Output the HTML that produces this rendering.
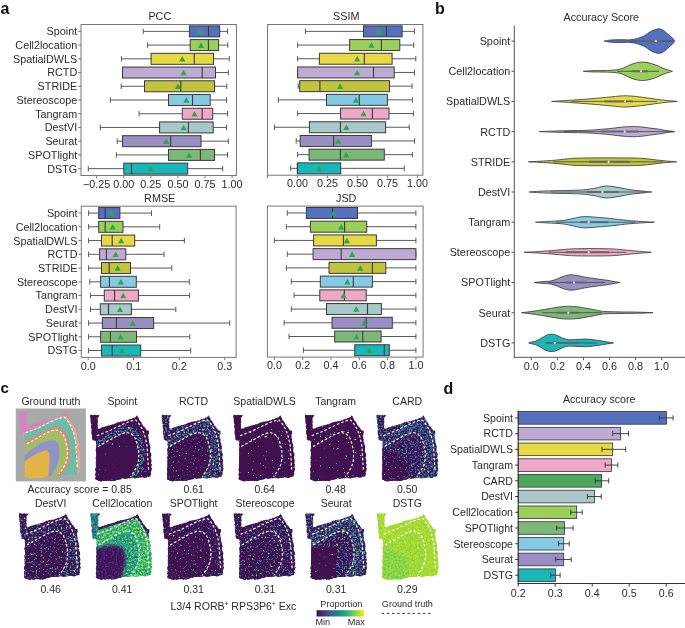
<!DOCTYPE html><html><head><meta charset="utf-8"><style>html,body{margin:0;padding:0;background:#fff;overflow:hidden;}svg{display:block;will-change:transform}text{font-family:"Liberation Sans",sans-serif;}</style></head><body>
<svg width="685" height="628" viewBox="0 0 685 628">
<text x="0.5" y="13.6" font-size="16" text-anchor="start" font-weight="bold" fill="#111">a</text>
<text x="435.0" y="13.6" font-size="16" text-anchor="start" font-weight="bold" fill="#111">b</text>
<text x="0.5" y="393.3" font-size="15" text-anchor="start" font-weight="bold" fill="#111">c</text>
<text x="443.5" y="394.0" font-size="16" text-anchor="start" font-weight="bold" fill="#111">d</text>
<rect x="81.00" y="24.50" width="155.50" height="151.00" fill="none" stroke="#777777" stroke-width="1"/>
<text x="159.8" y="20.4" font-size="10.8" text-anchor="middle" fill="#2b2b2b">PCC</text>
<line x1="143.20" y1="31.36" x2="189.40" y2="31.36" stroke="#5a5a5a" stroke-width="1"/>
<line x1="219.70" y1="31.36" x2="227.50" y2="31.36" stroke="#5a5a5a" stroke-width="1"/>
<line x1="143.20" y1="28.62" x2="143.20" y2="34.11" stroke="#5a5a5a" stroke-width="1"/>
<line x1="227.50" y1="28.62" x2="227.50" y2="34.11" stroke="#5a5a5a" stroke-width="1"/>
<rect x="189.40" y="25.87" width="30.30" height="10.98" fill="#5470BE" stroke="#3a3a3a" stroke-width="1"/>
<line x1="208.50" y1="25.87" x2="208.50" y2="36.85" stroke="#3a3a3a" stroke-width="1.1"/>
<path d="M197.10,34.16 L203.30,34.16 L200.20,28.56 Z" fill="#2BA84A"/>
<line x1="78.20" y1="31.36" x2="81.00" y2="31.36" stroke="#777777" stroke-width="1"/>
<text x="77.2" y="35.3" font-size="10.8" text-anchor="end" fill="#2b2b2b">Spoint</text>
<line x1="147.60" y1="45.09" x2="190.20" y2="45.09" stroke="#5a5a5a" stroke-width="1"/>
<line x1="218.60" y1="45.09" x2="227.80" y2="45.09" stroke="#5a5a5a" stroke-width="1"/>
<line x1="147.60" y1="42.35" x2="147.60" y2="47.84" stroke="#5a5a5a" stroke-width="1"/>
<line x1="227.80" y1="42.35" x2="227.80" y2="47.84" stroke="#5a5a5a" stroke-width="1"/>
<rect x="190.20" y="39.60" width="28.40" height="10.98" fill="#9BCF5B" stroke="#3a3a3a" stroke-width="1"/>
<line x1="208.40" y1="39.60" x2="208.40" y2="50.58" stroke="#3a3a3a" stroke-width="1.1"/>
<path d="M197.90,47.89 L204.10,47.89 L201.00,42.29 Z" fill="#2BA84A"/>
<line x1="78.20" y1="45.09" x2="81.00" y2="45.09" stroke="#777777" stroke-width="1"/>
<text x="77.2" y="49.0" font-size="10.8" text-anchor="end" fill="#2b2b2b">Cell2location</text>
<line x1="121.50" y1="58.82" x2="151.10" y2="58.82" stroke="#5a5a5a" stroke-width="1"/>
<line x1="213.50" y1="58.82" x2="229.30" y2="58.82" stroke="#5a5a5a" stroke-width="1"/>
<line x1="121.50" y1="56.07" x2="121.50" y2="61.56" stroke="#5a5a5a" stroke-width="1"/>
<line x1="229.30" y1="56.07" x2="229.30" y2="61.56" stroke="#5a5a5a" stroke-width="1"/>
<rect x="151.10" y="53.33" width="62.40" height="10.98" fill="#E6D944" stroke="#3a3a3a" stroke-width="1"/>
<line x1="194.30" y1="53.33" x2="194.30" y2="64.31" stroke="#3a3a3a" stroke-width="1.1"/>
<path d="M179.20,61.62 L185.40,61.62 L182.30,56.02 Z" fill="#2BA84A"/>
<line x1="78.20" y1="58.82" x2="81.00" y2="58.82" stroke="#777777" stroke-width="1"/>
<text x="77.2" y="62.7" font-size="10.8" text-anchor="end" fill="#2b2b2b">SpatialDWLS</text>
<line x1="122.50" y1="72.55" x2="122.50" y2="72.55" stroke="#5a5a5a" stroke-width="1"/>
<line x1="215.50" y1="72.55" x2="228.30" y2="72.55" stroke="#5a5a5a" stroke-width="1"/>
<line x1="122.50" y1="69.80" x2="122.50" y2="75.29" stroke="#5a5a5a" stroke-width="1"/>
<line x1="228.30" y1="69.80" x2="228.30" y2="75.29" stroke="#5a5a5a" stroke-width="1"/>
<rect x="122.50" y="67.05" width="93.00" height="10.98" fill="#BEAAD3" stroke="#3a3a3a" stroke-width="1"/>
<line x1="202.20" y1="67.05" x2="202.20" y2="78.04" stroke="#3a3a3a" stroke-width="1.1"/>
<path d="M180.50,75.35 L186.70,75.35 L183.60,69.75 Z" fill="#2BA84A"/>
<line x1="78.20" y1="72.55" x2="81.00" y2="72.55" stroke="#777777" stroke-width="1"/>
<text x="77.2" y="76.4" font-size="10.8" text-anchor="end" fill="#2b2b2b">RCTD</text>
<line x1="121.20" y1="86.27" x2="144.50" y2="86.27" stroke="#5a5a5a" stroke-width="1"/>
<line x1="214.50" y1="86.27" x2="226.80" y2="86.27" stroke="#5a5a5a" stroke-width="1"/>
<line x1="121.20" y1="83.53" x2="121.20" y2="89.02" stroke="#5a5a5a" stroke-width="1"/>
<line x1="226.80" y1="83.53" x2="226.80" y2="89.02" stroke="#5a5a5a" stroke-width="1"/>
<rect x="144.50" y="80.78" width="70.00" height="10.98" fill="#C3C43E" stroke="#3a3a3a" stroke-width="1"/>
<line x1="180.80" y1="80.78" x2="180.80" y2="91.76" stroke="#3a3a3a" stroke-width="1.1"/>
<path d="M174.90,89.07 L181.10,89.07 L178.00,83.47 Z" fill="#2BA84A"/>
<line x1="78.20" y1="86.27" x2="81.00" y2="86.27" stroke="#777777" stroke-width="1"/>
<text x="77.2" y="90.2" font-size="10.8" text-anchor="end" fill="#2b2b2b">STRIDE</text>
<line x1="110.30" y1="100.00" x2="168.50" y2="100.00" stroke="#5a5a5a" stroke-width="1"/>
<line x1="210.20" y1="100.00" x2="226.50" y2="100.00" stroke="#5a5a5a" stroke-width="1"/>
<line x1="110.30" y1="97.25" x2="110.30" y2="102.75" stroke="#5a5a5a" stroke-width="1"/>
<line x1="226.50" y1="97.25" x2="226.50" y2="102.75" stroke="#5a5a5a" stroke-width="1"/>
<rect x="168.50" y="94.51" width="41.70" height="10.98" fill="#86CBE6" stroke="#3a3a3a" stroke-width="1"/>
<line x1="192.50" y1="94.51" x2="192.50" y2="105.49" stroke="#3a3a3a" stroke-width="1.1"/>
<path d="M183.30,102.80 L189.50,102.80 L186.40,97.20 Z" fill="#2BA84A"/>
<line x1="78.20" y1="100.00" x2="81.00" y2="100.00" stroke="#777777" stroke-width="1"/>
<text x="77.2" y="103.9" font-size="10.8" text-anchor="end" fill="#2b2b2b">Stereoscope</text>
<line x1="139.10" y1="113.73" x2="182.30" y2="113.73" stroke="#5a5a5a" stroke-width="1"/>
<line x1="212.70" y1="113.73" x2="227.50" y2="113.73" stroke="#5a5a5a" stroke-width="1"/>
<line x1="139.10" y1="110.98" x2="139.10" y2="116.47" stroke="#5a5a5a" stroke-width="1"/>
<line x1="227.50" y1="110.98" x2="227.50" y2="116.47" stroke="#5a5a5a" stroke-width="1"/>
<rect x="182.30" y="108.24" width="30.40" height="10.98" fill="#EFA8C8" stroke="#3a3a3a" stroke-width="1"/>
<line x1="202.20" y1="108.24" x2="202.20" y2="119.22" stroke="#3a3a3a" stroke-width="1.1"/>
<path d="M191.50,116.53 L197.70,116.53 L194.60,110.93 Z" fill="#2BA84A"/>
<line x1="78.20" y1="113.73" x2="81.00" y2="113.73" stroke="#777777" stroke-width="1"/>
<text x="77.2" y="117.6" font-size="10.8" text-anchor="end" fill="#2b2b2b">Tangram</text>
<line x1="100.30" y1="127.45" x2="159.60" y2="127.45" stroke="#5a5a5a" stroke-width="1"/>
<line x1="213.20" y1="127.45" x2="226.50" y2="127.45" stroke="#5a5a5a" stroke-width="1"/>
<line x1="100.30" y1="124.71" x2="100.30" y2="130.20" stroke="#5a5a5a" stroke-width="1"/>
<line x1="226.50" y1="124.71" x2="226.50" y2="130.20" stroke="#5a5a5a" stroke-width="1"/>
<rect x="159.60" y="121.96" width="53.60" height="10.98" fill="#A8C8C9" stroke="#3a3a3a" stroke-width="1"/>
<line x1="188.40" y1="121.96" x2="188.40" y2="132.95" stroke="#3a3a3a" stroke-width="1.1"/>
<path d="M180.50,130.25 L186.70,130.25 L183.60,124.65 Z" fill="#2BA84A"/>
<line x1="78.20" y1="127.45" x2="81.00" y2="127.45" stroke="#777777" stroke-width="1"/>
<text x="77.2" y="131.3" font-size="10.8" text-anchor="end" fill="#2b2b2b">DestVI</text>
<line x1="117.20" y1="141.18" x2="122.50" y2="141.18" stroke="#5a5a5a" stroke-width="1"/>
<line x1="201.00" y1="141.18" x2="228.30" y2="141.18" stroke="#5a5a5a" stroke-width="1"/>
<line x1="117.20" y1="138.44" x2="117.20" y2="143.93" stroke="#5a5a5a" stroke-width="1"/>
<line x1="228.30" y1="138.44" x2="228.30" y2="143.93" stroke="#5a5a5a" stroke-width="1"/>
<rect x="122.50" y="135.69" width="78.50" height="10.98" fill="#9A8FC3" stroke="#3a3a3a" stroke-width="1"/>
<line x1="170.60" y1="135.69" x2="170.60" y2="146.67" stroke="#3a3a3a" stroke-width="1.1"/>
<path d="M163.10,143.98 L169.30,143.98 L166.20,138.38 Z" fill="#2BA84A"/>
<line x1="78.20" y1="141.18" x2="81.00" y2="141.18" stroke="#777777" stroke-width="1"/>
<text x="77.2" y="145.1" font-size="10.8" text-anchor="end" fill="#2b2b2b">Seurat</text>
<line x1="116.40" y1="154.91" x2="168.50" y2="154.91" stroke="#5a5a5a" stroke-width="1"/>
<line x1="214.50" y1="154.91" x2="227.50" y2="154.91" stroke="#5a5a5a" stroke-width="1"/>
<line x1="116.40" y1="152.16" x2="116.40" y2="157.65" stroke="#5a5a5a" stroke-width="1"/>
<line x1="227.50" y1="152.16" x2="227.50" y2="157.65" stroke="#5a5a5a" stroke-width="1"/>
<rect x="168.50" y="149.42" width="46.00" height="10.98" fill="#7EB878" stroke="#3a3a3a" stroke-width="1"/>
<line x1="200.40" y1="149.42" x2="200.40" y2="160.40" stroke="#3a3a3a" stroke-width="1.1"/>
<path d="M185.90,157.71 L192.10,157.71 L189.00,152.11 Z" fill="#2BA84A"/>
<line x1="78.20" y1="154.91" x2="81.00" y2="154.91" stroke="#777777" stroke-width="1"/>
<text x="77.2" y="158.8" font-size="10.8" text-anchor="end" fill="#2b2b2b">SPOTlight</text>
<line x1="88.30" y1="168.64" x2="123.80" y2="168.64" stroke="#5a5a5a" stroke-width="1"/>
<line x1="187.70" y1="168.64" x2="222.70" y2="168.64" stroke="#5a5a5a" stroke-width="1"/>
<line x1="88.30" y1="165.89" x2="88.30" y2="171.38" stroke="#5a5a5a" stroke-width="1"/>
<line x1="222.70" y1="165.89" x2="222.70" y2="171.38" stroke="#5a5a5a" stroke-width="1"/>
<rect x="123.80" y="163.15" width="63.90" height="10.98" fill="#1AB7BA" stroke="#3a3a3a" stroke-width="1"/>
<line x1="131.50" y1="163.15" x2="131.50" y2="174.13" stroke="#3a3a3a" stroke-width="1.1"/>
<path d="M147.50,171.44 L153.70,171.44 L150.60,165.84 Z" fill="#2BA84A"/>
<line x1="78.20" y1="168.64" x2="81.00" y2="168.64" stroke="#777777" stroke-width="1"/>
<text x="77.2" y="172.5" font-size="10.8" text-anchor="end" fill="#2b2b2b">DSTG</text>
<line x1="96.60" y1="175.50" x2="96.60" y2="178.30" stroke="#777777" stroke-width="1"/>
<text x="96.6" y="187.6" font-size="10.8" text-anchor="middle" fill="#2b2b2b">−0.25</text>
<line x1="123.70" y1="175.50" x2="123.70" y2="178.30" stroke="#777777" stroke-width="1"/>
<text x="123.7" y="187.6" font-size="10.8" text-anchor="middle" fill="#2b2b2b">0.00</text>
<line x1="150.80" y1="175.50" x2="150.80" y2="178.30" stroke="#777777" stroke-width="1"/>
<text x="150.8" y="187.6" font-size="10.8" text-anchor="middle" fill="#2b2b2b">0.25</text>
<line x1="177.90" y1="175.50" x2="177.90" y2="178.30" stroke="#777777" stroke-width="1"/>
<text x="177.9" y="187.6" font-size="10.8" text-anchor="middle" fill="#2b2b2b">0.50</text>
<line x1="205.00" y1="175.50" x2="205.00" y2="178.30" stroke="#777777" stroke-width="1"/>
<text x="205.0" y="187.6" font-size="10.8" text-anchor="middle" fill="#2b2b2b">0.75</text>
<line x1="232.10" y1="175.50" x2="232.10" y2="178.30" stroke="#777777" stroke-width="1"/>
<text x="232.1" y="187.6" font-size="10.8" text-anchor="middle" fill="#2b2b2b">1.00</text>
<rect x="267.50" y="24.50" width="155.40" height="150.70" fill="none" stroke="#777777" stroke-width="1"/>
<text x="346.2" y="20.4" font-size="10.8" text-anchor="middle" fill="#2b2b2b">SSIM</text>
<line x1="305.40" y1="31.35" x2="363.50" y2="31.35" stroke="#5a5a5a" stroke-width="1"/>
<line x1="402.10" y1="31.35" x2="414.50" y2="31.35" stroke="#5a5a5a" stroke-width="1"/>
<line x1="305.40" y1="28.61" x2="305.40" y2="34.09" stroke="#5a5a5a" stroke-width="1"/>
<line x1="414.50" y1="28.61" x2="414.50" y2="34.09" stroke="#5a5a5a" stroke-width="1"/>
<rect x="363.50" y="25.87" width="38.60" height="10.96" fill="#5470BE" stroke="#3a3a3a" stroke-width="1"/>
<line x1="386.40" y1="25.87" x2="386.40" y2="36.83" stroke="#3a3a3a" stroke-width="1.1"/>
<path d="M375.90,34.15 L382.10,34.15 L379.00,28.55 Z" fill="#2BA84A"/>
<line x1="297.60" y1="45.05" x2="349.60" y2="45.05" stroke="#5a5a5a" stroke-width="1"/>
<line x1="399.80" y1="45.05" x2="413.70" y2="45.05" stroke="#5a5a5a" stroke-width="1"/>
<line x1="297.60" y1="42.31" x2="297.60" y2="47.79" stroke="#5a5a5a" stroke-width="1"/>
<line x1="413.70" y1="42.31" x2="413.70" y2="47.79" stroke="#5a5a5a" stroke-width="1"/>
<rect x="349.60" y="39.57" width="50.20" height="10.96" fill="#9BCF5B" stroke="#3a3a3a" stroke-width="1"/>
<line x1="381.40" y1="39.57" x2="381.40" y2="50.53" stroke="#3a3a3a" stroke-width="1.1"/>
<path d="M368.30,47.85 L374.50,47.85 L371.40,42.25 Z" fill="#2BA84A"/>
<line x1="297.60" y1="58.75" x2="319.40" y2="58.75" stroke="#5a5a5a" stroke-width="1"/>
<line x1="392.10" y1="58.75" x2="415.80" y2="58.75" stroke="#5a5a5a" stroke-width="1"/>
<line x1="297.60" y1="56.01" x2="297.60" y2="61.49" stroke="#5a5a5a" stroke-width="1"/>
<line x1="415.80" y1="56.01" x2="415.80" y2="61.49" stroke="#5a5a5a" stroke-width="1"/>
<rect x="319.40" y="53.27" width="72.70" height="10.96" fill="#E6D944" stroke="#3a3a3a" stroke-width="1"/>
<line x1="364.30" y1="53.27" x2="364.30" y2="64.23" stroke="#3a3a3a" stroke-width="1.1"/>
<path d="M354.10,61.55 L360.30,61.55 L357.20,55.95 Z" fill="#2BA84A"/>
<line x1="297.60" y1="72.45" x2="297.60" y2="72.45" stroke="#5a5a5a" stroke-width="1"/>
<line x1="394.20" y1="72.45" x2="414.50" y2="72.45" stroke="#5a5a5a" stroke-width="1"/>
<line x1="297.60" y1="69.71" x2="297.60" y2="75.19" stroke="#5a5a5a" stroke-width="1"/>
<line x1="414.50" y1="69.71" x2="414.50" y2="75.19" stroke="#5a5a5a" stroke-width="1"/>
<rect x="297.60" y="66.97" width="96.60" height="10.96" fill="#BEAAD3" stroke="#3a3a3a" stroke-width="1"/>
<line x1="373.50" y1="66.97" x2="373.50" y2="77.93" stroke="#3a3a3a" stroke-width="1.1"/>
<path d="M354.10,75.25 L360.30,75.25 L357.20,69.65 Z" fill="#2BA84A"/>
<line x1="298.10" y1="86.15" x2="299.70" y2="86.15" stroke="#5a5a5a" stroke-width="1"/>
<line x1="389.50" y1="86.15" x2="412.10" y2="86.15" stroke="#5a5a5a" stroke-width="1"/>
<line x1="298.10" y1="83.41" x2="298.10" y2="88.89" stroke="#5a5a5a" stroke-width="1"/>
<line x1="412.10" y1="83.41" x2="412.10" y2="88.89" stroke="#5a5a5a" stroke-width="1"/>
<rect x="299.70" y="80.67" width="89.80" height="10.96" fill="#C3C43E" stroke="#3a3a3a" stroke-width="1"/>
<line x1="319.90" y1="80.67" x2="319.90" y2="91.63" stroke="#3a3a3a" stroke-width="1.1"/>
<path d="M337.00,88.95 L343.20,88.95 L340.10,83.35 Z" fill="#2BA84A"/>
<line x1="278.40" y1="99.85" x2="326.50" y2="99.85" stroke="#5a5a5a" stroke-width="1"/>
<line x1="387.40" y1="99.85" x2="412.40" y2="99.85" stroke="#5a5a5a" stroke-width="1"/>
<line x1="278.40" y1="97.11" x2="278.40" y2="102.59" stroke="#5a5a5a" stroke-width="1"/>
<line x1="412.40" y1="97.11" x2="412.40" y2="102.59" stroke="#5a5a5a" stroke-width="1"/>
<rect x="326.50" y="94.37" width="60.90" height="10.96" fill="#86CBE6" stroke="#3a3a3a" stroke-width="1"/>
<line x1="359.30" y1="94.37" x2="359.30" y2="105.33" stroke="#3a3a3a" stroke-width="1.1"/>
<path d="M352.80,102.65 L359.00,102.65 L355.90,97.05 Z" fill="#2BA84A"/>
<line x1="297.60" y1="113.55" x2="340.60" y2="113.55" stroke="#5a5a5a" stroke-width="1"/>
<line x1="389.00" y1="113.55" x2="413.40" y2="113.55" stroke="#5a5a5a" stroke-width="1"/>
<line x1="297.60" y1="110.81" x2="297.60" y2="116.29" stroke="#5a5a5a" stroke-width="1"/>
<line x1="413.40" y1="110.81" x2="413.40" y2="116.29" stroke="#5a5a5a" stroke-width="1"/>
<rect x="340.60" y="108.07" width="48.40" height="10.96" fill="#EFA8C8" stroke="#3a3a3a" stroke-width="1"/>
<line x1="372.40" y1="108.07" x2="372.40" y2="119.03" stroke="#3a3a3a" stroke-width="1.1"/>
<path d="M360.40,116.35 L366.60,116.35 L363.50,110.75 Z" fill="#2BA84A"/>
<line x1="274.40" y1="127.25" x2="309.40" y2="127.25" stroke="#5a5a5a" stroke-width="1"/>
<line x1="385.60" y1="127.25" x2="409.20" y2="127.25" stroke="#5a5a5a" stroke-width="1"/>
<line x1="274.40" y1="124.51" x2="274.40" y2="129.99" stroke="#5a5a5a" stroke-width="1"/>
<line x1="409.20" y1="124.51" x2="409.20" y2="129.99" stroke="#5a5a5a" stroke-width="1"/>
<rect x="309.40" y="121.77" width="76.20" height="10.96" fill="#A8C8C9" stroke="#3a3a3a" stroke-width="1"/>
<line x1="340.40" y1="121.77" x2="340.40" y2="132.73" stroke="#3a3a3a" stroke-width="1.1"/>
<path d="M343.30,130.05 L349.50,130.05 L346.40,124.45 Z" fill="#2BA84A"/>
<line x1="296.20" y1="140.95" x2="300.20" y2="140.95" stroke="#5a5a5a" stroke-width="1"/>
<line x1="371.40" y1="140.95" x2="414.50" y2="140.95" stroke="#5a5a5a" stroke-width="1"/>
<line x1="296.20" y1="138.21" x2="296.20" y2="143.69" stroke="#5a5a5a" stroke-width="1"/>
<line x1="414.50" y1="138.21" x2="414.50" y2="143.69" stroke="#5a5a5a" stroke-width="1"/>
<rect x="300.20" y="135.47" width="71.20" height="10.96" fill="#9A8FC3" stroke="#3a3a3a" stroke-width="1"/>
<line x1="333.60" y1="135.47" x2="333.60" y2="146.43" stroke="#3a3a3a" stroke-width="1.1"/>
<path d="M335.20,143.75 L341.40,143.75 L338.30,138.15 Z" fill="#2BA84A"/>
<line x1="297.60" y1="154.65" x2="309.10" y2="154.65" stroke="#5a5a5a" stroke-width="1"/>
<line x1="384.30" y1="154.65" x2="412.40" y2="154.65" stroke="#5a5a5a" stroke-width="1"/>
<line x1="297.60" y1="151.91" x2="297.60" y2="157.39" stroke="#5a5a5a" stroke-width="1"/>
<line x1="412.40" y1="151.91" x2="412.40" y2="157.39" stroke="#5a5a5a" stroke-width="1"/>
<rect x="309.10" y="149.17" width="75.20" height="10.96" fill="#7EB878" stroke="#3a3a3a" stroke-width="1"/>
<line x1="340.40" y1="149.17" x2="340.40" y2="160.13" stroke="#3a3a3a" stroke-width="1.1"/>
<path d="M343.10,157.45 L349.30,157.45 L346.20,151.85 Z" fill="#2BA84A"/>
<line x1="290.70" y1="168.35" x2="297.40" y2="168.35" stroke="#5a5a5a" stroke-width="1"/>
<line x1="340.70" y1="168.35" x2="404.20" y2="168.35" stroke="#5a5a5a" stroke-width="1"/>
<line x1="290.70" y1="165.61" x2="290.70" y2="171.09" stroke="#5a5a5a" stroke-width="1"/>
<line x1="404.20" y1="165.61" x2="404.20" y2="171.09" stroke="#5a5a5a" stroke-width="1"/>
<rect x="297.40" y="162.87" width="43.30" height="10.96" fill="#1AB7BA" stroke="#3a3a3a" stroke-width="1"/>
<line x1="297.40" y1="162.87" x2="297.40" y2="173.83" stroke="#3a3a3a" stroke-width="1.1"/>
<path d="M315.90,171.15 L322.10,171.15 L319.00,165.55 Z" fill="#2BA84A"/>
<line x1="267.40" y1="175.20" x2="267.40" y2="178.00" stroke="#777777" stroke-width="1"/>
<line x1="297.40" y1="175.20" x2="297.40" y2="178.00" stroke="#777777" stroke-width="1"/>
<text x="297.4" y="187.3" font-size="10.8" text-anchor="middle" fill="#2b2b2b">0.00</text>
<line x1="327.40" y1="175.20" x2="327.40" y2="178.00" stroke="#777777" stroke-width="1"/>
<text x="327.4" y="187.3" font-size="10.8" text-anchor="middle" fill="#2b2b2b">0.25</text>
<line x1="357.40" y1="175.20" x2="357.40" y2="178.00" stroke="#777777" stroke-width="1"/>
<text x="357.4" y="187.3" font-size="10.8" text-anchor="middle" fill="#2b2b2b">0.50</text>
<line x1="387.40" y1="175.20" x2="387.40" y2="178.00" stroke="#777777" stroke-width="1"/>
<text x="387.4" y="187.3" font-size="10.8" text-anchor="middle" fill="#2b2b2b">0.75</text>
<line x1="417.40" y1="175.20" x2="417.40" y2="178.00" stroke="#777777" stroke-width="1"/>
<text x="417.4" y="187.3" font-size="10.8" text-anchor="middle" fill="#2b2b2b">1.00</text>
<rect x="81.30" y="206.20" width="154.80" height="151.20" fill="none" stroke="#777777" stroke-width="1"/>
<text x="159.7" y="202.1" font-size="10.8" text-anchor="middle" fill="#2b2b2b">RMSE</text>
<line x1="88.60" y1="213.07" x2="98.70" y2="213.07" stroke="#5a5a5a" stroke-width="1"/>
<line x1="119.90" y1="213.07" x2="151.50" y2="213.07" stroke="#5a5a5a" stroke-width="1"/>
<line x1="88.60" y1="210.32" x2="88.60" y2="215.82" stroke="#5a5a5a" stroke-width="1"/>
<line x1="151.50" y1="210.32" x2="151.50" y2="215.82" stroke="#5a5a5a" stroke-width="1"/>
<rect x="98.70" y="207.57" width="21.20" height="11.00" fill="#5470BE" stroke="#3a3a3a" stroke-width="1"/>
<line x1="105.20" y1="207.57" x2="105.20" y2="218.57" stroke="#3a3a3a" stroke-width="1.1"/>
<path d="M107.70,215.87 L113.90,215.87 L110.80,210.27 Z" fill="#2BA84A"/>
<line x1="78.50" y1="213.07" x2="81.30" y2="213.07" stroke="#777777" stroke-width="1"/>
<text x="77.5" y="217.0" font-size="10.8" text-anchor="end" fill="#2b2b2b">Spoint</text>
<line x1="88.60" y1="226.82" x2="98.70" y2="226.82" stroke="#5a5a5a" stroke-width="1"/>
<line x1="123.00" y1="226.82" x2="159.70" y2="226.82" stroke="#5a5a5a" stroke-width="1"/>
<line x1="88.60" y1="224.07" x2="88.60" y2="229.57" stroke="#5a5a5a" stroke-width="1"/>
<line x1="159.70" y1="224.07" x2="159.70" y2="229.57" stroke="#5a5a5a" stroke-width="1"/>
<rect x="98.70" y="221.32" width="24.30" height="11.00" fill="#9BCF5B" stroke="#3a3a3a" stroke-width="1"/>
<line x1="105.20" y1="221.32" x2="105.20" y2="232.32" stroke="#3a3a3a" stroke-width="1.1"/>
<path d="M109.60,229.62 L115.80,229.62 L112.70,224.02 Z" fill="#2BA84A"/>
<line x1="78.50" y1="226.82" x2="81.30" y2="226.82" stroke="#777777" stroke-width="1"/>
<text x="77.5" y="230.7" font-size="10.8" text-anchor="end" fill="#2b2b2b">Cell2location</text>
<line x1="88.60" y1="240.56" x2="101.50" y2="240.56" stroke="#5a5a5a" stroke-width="1"/>
<line x1="134.70" y1="240.56" x2="184.40" y2="240.56" stroke="#5a5a5a" stroke-width="1"/>
<line x1="88.60" y1="237.81" x2="88.60" y2="243.31" stroke="#5a5a5a" stroke-width="1"/>
<line x1="184.40" y1="237.81" x2="184.40" y2="243.31" stroke="#5a5a5a" stroke-width="1"/>
<rect x="101.50" y="235.07" width="33.20" height="11.00" fill="#E6D944" stroke="#3a3a3a" stroke-width="1"/>
<line x1="112.20" y1="235.07" x2="112.20" y2="246.06" stroke="#3a3a3a" stroke-width="1.1"/>
<path d="M118.00,243.36 L124.20,243.36 L121.10,237.76 Z" fill="#2BA84A"/>
<line x1="78.50" y1="240.56" x2="81.30" y2="240.56" stroke="#777777" stroke-width="1"/>
<text x="77.5" y="244.5" font-size="10.8" text-anchor="end" fill="#2b2b2b">SpatialDWLS</text>
<line x1="88.60" y1="254.31" x2="99.60" y2="254.31" stroke="#5a5a5a" stroke-width="1"/>
<line x1="125.80" y1="254.31" x2="164.10" y2="254.31" stroke="#5a5a5a" stroke-width="1"/>
<line x1="88.60" y1="251.56" x2="88.60" y2="257.06" stroke="#5a5a5a" stroke-width="1"/>
<line x1="164.10" y1="251.56" x2="164.10" y2="257.06" stroke="#5a5a5a" stroke-width="1"/>
<rect x="99.60" y="248.81" width="26.20" height="11.00" fill="#BEAAD3" stroke="#3a3a3a" stroke-width="1"/>
<line x1="106.40" y1="248.81" x2="106.40" y2="259.81" stroke="#3a3a3a" stroke-width="1.1"/>
<path d="M112.60,257.11 L118.80,257.11 L115.70,251.51 Z" fill="#2BA84A"/>
<line x1="78.50" y1="254.31" x2="81.30" y2="254.31" stroke="#777777" stroke-width="1"/>
<text x="77.5" y="258.2" font-size="10.8" text-anchor="end" fill="#2b2b2b">RCTD</text>
<line x1="88.60" y1="268.05" x2="101.50" y2="268.05" stroke="#5a5a5a" stroke-width="1"/>
<line x1="130.50" y1="268.05" x2="171.80" y2="268.05" stroke="#5a5a5a" stroke-width="1"/>
<line x1="88.60" y1="265.31" x2="88.60" y2="270.80" stroke="#5a5a5a" stroke-width="1"/>
<line x1="171.80" y1="265.31" x2="171.80" y2="270.80" stroke="#5a5a5a" stroke-width="1"/>
<rect x="101.50" y="262.56" width="29.00" height="11.00" fill="#C3C43E" stroke="#3a3a3a" stroke-width="1"/>
<line x1="109.20" y1="262.56" x2="109.20" y2="273.55" stroke="#3a3a3a" stroke-width="1.1"/>
<path d="M114.50,270.85 L120.70,270.85 L117.60,265.25 Z" fill="#2BA84A"/>
<line x1="78.50" y1="268.05" x2="81.30" y2="268.05" stroke="#777777" stroke-width="1"/>
<text x="77.5" y="271.9" font-size="10.8" text-anchor="end" fill="#2b2b2b">STRIDE</text>
<line x1="89.80" y1="281.80" x2="100.60" y2="281.80" stroke="#5a5a5a" stroke-width="1"/>
<line x1="136.30" y1="281.80" x2="189.30" y2="281.80" stroke="#5a5a5a" stroke-width="1"/>
<line x1="89.80" y1="279.05" x2="89.80" y2="284.55" stroke="#5a5a5a" stroke-width="1"/>
<line x1="189.30" y1="279.05" x2="189.30" y2="284.55" stroke="#5a5a5a" stroke-width="1"/>
<rect x="100.60" y="276.30" width="35.70" height="11.00" fill="#86CBE6" stroke="#3a3a3a" stroke-width="1"/>
<line x1="109.40" y1="276.30" x2="109.40" y2="287.30" stroke="#3a3a3a" stroke-width="1.1"/>
<path d="M117.80,284.60 L124.00,284.60 L120.90,279.00 Z" fill="#2BA84A"/>
<line x1="78.50" y1="281.80" x2="81.30" y2="281.80" stroke="#777777" stroke-width="1"/>
<text x="77.5" y="285.7" font-size="10.8" text-anchor="end" fill="#2b2b2b">Stereoscope</text>
<line x1="90.50" y1="295.55" x2="104.30" y2="295.55" stroke="#5a5a5a" stroke-width="1"/>
<line x1="138.40" y1="295.55" x2="189.60" y2="295.55" stroke="#5a5a5a" stroke-width="1"/>
<line x1="90.50" y1="292.80" x2="90.50" y2="298.29" stroke="#5a5a5a" stroke-width="1"/>
<line x1="189.60" y1="292.80" x2="189.60" y2="298.29" stroke="#5a5a5a" stroke-width="1"/>
<rect x="104.30" y="290.05" width="34.10" height="11.00" fill="#EFA8C8" stroke="#3a3a3a" stroke-width="1"/>
<line x1="114.60" y1="290.05" x2="114.60" y2="301.04" stroke="#3a3a3a" stroke-width="1.1"/>
<path d="M120.10,298.35 L126.30,298.35 L123.20,292.75 Z" fill="#2BA84A"/>
<line x1="78.50" y1="295.55" x2="81.30" y2="295.55" stroke="#777777" stroke-width="1"/>
<text x="77.5" y="299.4" font-size="10.8" text-anchor="end" fill="#2b2b2b">Tangram</text>
<line x1="90.50" y1="309.29" x2="100.30" y2="309.29" stroke="#5a5a5a" stroke-width="1"/>
<line x1="131.40" y1="309.29" x2="175.80" y2="309.29" stroke="#5a5a5a" stroke-width="1"/>
<line x1="90.50" y1="306.54" x2="90.50" y2="312.04" stroke="#5a5a5a" stroke-width="1"/>
<line x1="175.80" y1="306.54" x2="175.80" y2="312.04" stroke="#5a5a5a" stroke-width="1"/>
<rect x="100.30" y="303.79" width="31.10" height="11.00" fill="#A8C8C9" stroke="#3a3a3a" stroke-width="1"/>
<line x1="108.50" y1="303.79" x2="108.50" y2="314.79" stroke="#3a3a3a" stroke-width="1.1"/>
<path d="M116.90,312.09 L123.10,312.09 L120.00,306.49 Z" fill="#2BA84A"/>
<line x1="78.50" y1="309.29" x2="81.30" y2="309.29" stroke="#777777" stroke-width="1"/>
<text x="77.5" y="313.2" font-size="10.8" text-anchor="end" fill="#2b2b2b">DestVI</text>
<line x1="88.60" y1="323.04" x2="102.40" y2="323.04" stroke="#5a5a5a" stroke-width="1"/>
<line x1="153.60" y1="323.04" x2="229.70" y2="323.04" stroke="#5a5a5a" stroke-width="1"/>
<line x1="88.60" y1="320.29" x2="88.60" y2="325.79" stroke="#5a5a5a" stroke-width="1"/>
<line x1="229.70" y1="320.29" x2="229.70" y2="325.79" stroke="#5a5a5a" stroke-width="1"/>
<rect x="102.40" y="317.54" width="51.20" height="11.00" fill="#9A8FC3" stroke="#3a3a3a" stroke-width="1"/>
<line x1="116.40" y1="317.54" x2="116.40" y2="328.53" stroke="#3a3a3a" stroke-width="1.1"/>
<path d="M129.70,325.84 L135.90,325.84 L132.80,320.24 Z" fill="#2BA84A"/>
<line x1="78.50" y1="323.04" x2="81.30" y2="323.04" stroke="#777777" stroke-width="1"/>
<text x="77.5" y="326.9" font-size="10.8" text-anchor="end" fill="#2b2b2b">Seurat</text>
<line x1="88.60" y1="336.78" x2="100.60" y2="336.78" stroke="#5a5a5a" stroke-width="1"/>
<line x1="136.50" y1="336.78" x2="189.80" y2="336.78" stroke="#5a5a5a" stroke-width="1"/>
<line x1="88.60" y1="334.03" x2="88.60" y2="339.53" stroke="#5a5a5a" stroke-width="1"/>
<line x1="189.80" y1="334.03" x2="189.80" y2="339.53" stroke="#5a5a5a" stroke-width="1"/>
<rect x="100.60" y="331.28" width="35.90" height="11.00" fill="#7EB878" stroke="#3a3a3a" stroke-width="1"/>
<line x1="110.40" y1="331.28" x2="110.40" y2="342.28" stroke="#3a3a3a" stroke-width="1.1"/>
<path d="M117.50,339.58 L123.70,339.58 L120.60,333.98 Z" fill="#2BA84A"/>
<line x1="78.50" y1="336.78" x2="81.30" y2="336.78" stroke="#777777" stroke-width="1"/>
<text x="77.5" y="340.7" font-size="10.8" text-anchor="end" fill="#2b2b2b">SPOTlight</text>
<line x1="88.60" y1="350.53" x2="101.50" y2="350.53" stroke="#5a5a5a" stroke-width="1"/>
<line x1="140.70" y1="350.53" x2="190.70" y2="350.53" stroke="#5a5a5a" stroke-width="1"/>
<line x1="88.60" y1="347.78" x2="88.60" y2="353.28" stroke="#5a5a5a" stroke-width="1"/>
<line x1="190.70" y1="347.78" x2="190.70" y2="353.28" stroke="#5a5a5a" stroke-width="1"/>
<rect x="101.50" y="345.03" width="39.20" height="11.00" fill="#1AB7BA" stroke="#3a3a3a" stroke-width="1"/>
<line x1="112.20" y1="345.03" x2="112.20" y2="356.03" stroke="#3a3a3a" stroke-width="1.1"/>
<path d="M118.90,353.33 L125.10,353.33 L122.00,347.73 Z" fill="#2BA84A"/>
<line x1="78.50" y1="350.53" x2="81.30" y2="350.53" stroke="#777777" stroke-width="1"/>
<text x="77.5" y="354.4" font-size="10.8" text-anchor="end" fill="#2b2b2b">DSTG</text>
<line x1="88.20" y1="357.40" x2="88.20" y2="360.20" stroke="#777777" stroke-width="1"/>
<text x="88.2" y="369.5" font-size="10.8" text-anchor="middle" fill="#2b2b2b">0.0</text>
<line x1="133.70" y1="357.40" x2="133.70" y2="360.20" stroke="#777777" stroke-width="1"/>
<text x="133.7" y="369.5" font-size="10.8" text-anchor="middle" fill="#2b2b2b">0.1</text>
<line x1="179.20" y1="357.40" x2="179.20" y2="360.20" stroke="#777777" stroke-width="1"/>
<text x="179.2" y="369.5" font-size="10.8" text-anchor="middle" fill="#2b2b2b">0.2</text>
<line x1="224.70" y1="357.40" x2="224.70" y2="360.20" stroke="#777777" stroke-width="1"/>
<text x="224.7" y="369.5" font-size="10.8" text-anchor="middle" fill="#2b2b2b">0.3</text>
<rect x="267.40" y="206.10" width="155.70" height="151.00" fill="none" stroke="#777777" stroke-width="1"/>
<text x="346.2" y="202.0" font-size="10.8" text-anchor="middle" fill="#2b2b2b">JSD</text>
<line x1="287.30" y1="212.96" x2="306.40" y2="212.96" stroke="#5a5a5a" stroke-width="1"/>
<line x1="357.50" y1="212.96" x2="415.90" y2="212.96" stroke="#5a5a5a" stroke-width="1"/>
<line x1="287.30" y1="210.22" x2="287.30" y2="215.71" stroke="#5a5a5a" stroke-width="1"/>
<line x1="415.90" y1="210.22" x2="415.90" y2="215.71" stroke="#5a5a5a" stroke-width="1"/>
<rect x="306.40" y="207.47" width="51.10" height="10.98" fill="#5470BE" stroke="#3a3a3a" stroke-width="1"/>
<line x1="332.50" y1="207.47" x2="332.50" y2="218.45" stroke="#3a3a3a" stroke-width="1.1"/>
<path d="M330.40,215.76 L336.60,215.76 L333.50,210.16 Z" fill="#2BA84A"/>
<line x1="286.30" y1="226.69" x2="310.40" y2="226.69" stroke="#5a5a5a" stroke-width="1"/>
<line x1="366.70" y1="226.69" x2="415.90" y2="226.69" stroke="#5a5a5a" stroke-width="1"/>
<line x1="286.30" y1="223.95" x2="286.30" y2="229.44" stroke="#5a5a5a" stroke-width="1"/>
<line x1="415.90" y1="223.95" x2="415.90" y2="229.44" stroke="#5a5a5a" stroke-width="1"/>
<rect x="310.40" y="221.20" width="56.30" height="10.98" fill="#9BCF5B" stroke="#3a3a3a" stroke-width="1"/>
<line x1="344.60" y1="221.20" x2="344.60" y2="232.18" stroke="#3a3a3a" stroke-width="1.1"/>
<path d="M338.10,229.49 L344.30,229.49 L341.20,223.89 Z" fill="#2BA84A"/>
<line x1="274.40" y1="240.42" x2="313.60" y2="240.42" stroke="#5a5a5a" stroke-width="1"/>
<line x1="376.40" y1="240.42" x2="415.90" y2="240.42" stroke="#5a5a5a" stroke-width="1"/>
<line x1="274.40" y1="237.67" x2="274.40" y2="243.16" stroke="#5a5a5a" stroke-width="1"/>
<line x1="415.90" y1="237.67" x2="415.90" y2="243.16" stroke="#5a5a5a" stroke-width="1"/>
<rect x="313.60" y="234.93" width="62.80" height="10.98" fill="#E6D944" stroke="#3a3a3a" stroke-width="1"/>
<line x1="343.40" y1="234.93" x2="343.40" y2="245.91" stroke="#3a3a3a" stroke-width="1.1"/>
<path d="M343.80,243.22 L350.00,243.22 L346.90,237.62 Z" fill="#2BA84A"/>
<line x1="287.30" y1="254.15" x2="313.10" y2="254.15" stroke="#5a5a5a" stroke-width="1"/>
<line x1="415.90" y1="254.15" x2="415.90" y2="254.15" stroke="#5a5a5a" stroke-width="1"/>
<line x1="287.30" y1="251.40" x2="287.30" y2="256.89" stroke="#5a5a5a" stroke-width="1"/>
<line x1="415.90" y1="251.40" x2="415.90" y2="256.89" stroke="#5a5a5a" stroke-width="1"/>
<rect x="313.10" y="248.65" width="102.80" height="10.98" fill="#BEAAD3" stroke="#3a3a3a" stroke-width="1"/>
<line x1="341.20" y1="248.65" x2="341.20" y2="259.64" stroke="#3a3a3a" stroke-width="1.1"/>
<path d="M349.00,256.95 L355.20,256.95 L352.10,251.35 Z" fill="#2BA84A"/>
<line x1="286.30" y1="267.87" x2="329.00" y2="267.87" stroke="#5a5a5a" stroke-width="1"/>
<line x1="385.80" y1="267.87" x2="415.90" y2="267.87" stroke="#5a5a5a" stroke-width="1"/>
<line x1="286.30" y1="265.13" x2="286.30" y2="270.62" stroke="#5a5a5a" stroke-width="1"/>
<line x1="415.90" y1="265.13" x2="415.90" y2="270.62" stroke="#5a5a5a" stroke-width="1"/>
<rect x="329.00" y="262.38" width="56.80" height="10.98" fill="#C3C43E" stroke="#3a3a3a" stroke-width="1"/>
<line x1="372.40" y1="262.38" x2="372.40" y2="273.36" stroke="#3a3a3a" stroke-width="1.1"/>
<path d="M357.20,270.67 L363.40,270.67 L360.30,265.07 Z" fill="#2BA84A"/>
<line x1="291.30" y1="281.60" x2="320.30" y2="281.60" stroke="#5a5a5a" stroke-width="1"/>
<line x1="372.40" y1="281.60" x2="415.90" y2="281.60" stroke="#5a5a5a" stroke-width="1"/>
<line x1="291.30" y1="278.85" x2="291.30" y2="284.35" stroke="#5a5a5a" stroke-width="1"/>
<line x1="415.90" y1="278.85" x2="415.90" y2="284.35" stroke="#5a5a5a" stroke-width="1"/>
<rect x="320.30" y="276.11" width="52.10" height="10.98" fill="#86CBE6" stroke="#3a3a3a" stroke-width="1"/>
<line x1="353.30" y1="276.11" x2="353.30" y2="287.09" stroke="#3a3a3a" stroke-width="1.1"/>
<path d="M344.30,284.40 L350.50,284.40 L347.40,278.80 Z" fill="#2BA84A"/>
<line x1="294.00" y1="295.33" x2="319.80" y2="295.33" stroke="#5a5a5a" stroke-width="1"/>
<line x1="366.20" y1="295.33" x2="415.90" y2="295.33" stroke="#5a5a5a" stroke-width="1"/>
<line x1="294.00" y1="292.58" x2="294.00" y2="298.07" stroke="#5a5a5a" stroke-width="1"/>
<line x1="415.90" y1="292.58" x2="415.90" y2="298.07" stroke="#5a5a5a" stroke-width="1"/>
<rect x="319.80" y="289.84" width="46.40" height="10.98" fill="#EFA8C8" stroke="#3a3a3a" stroke-width="1"/>
<line x1="344.40" y1="289.84" x2="344.40" y2="300.82" stroke="#3a3a3a" stroke-width="1.1"/>
<path d="M340.50,298.13 L346.70,298.13 L343.60,292.53 Z" fill="#2BA84A"/>
<line x1="291.30" y1="309.05" x2="326.50" y2="309.05" stroke="#5a5a5a" stroke-width="1"/>
<line x1="381.40" y1="309.05" x2="415.90" y2="309.05" stroke="#5a5a5a" stroke-width="1"/>
<line x1="291.30" y1="306.31" x2="291.30" y2="311.80" stroke="#5a5a5a" stroke-width="1"/>
<line x1="415.90" y1="306.31" x2="415.90" y2="311.80" stroke="#5a5a5a" stroke-width="1"/>
<rect x="326.50" y="303.56" width="54.90" height="10.98" fill="#A8C8C9" stroke="#3a3a3a" stroke-width="1"/>
<line x1="367.50" y1="303.56" x2="367.50" y2="314.55" stroke="#3a3a3a" stroke-width="1.1"/>
<path d="M353.20,311.85 L359.40,311.85 L356.30,306.25 Z" fill="#2BA84A"/>
<line x1="284.10" y1="322.78" x2="332.00" y2="322.78" stroke="#5a5a5a" stroke-width="1"/>
<line x1="392.30" y1="322.78" x2="415.90" y2="322.78" stroke="#5a5a5a" stroke-width="1"/>
<line x1="284.10" y1="320.04" x2="284.10" y2="325.53" stroke="#5a5a5a" stroke-width="1"/>
<line x1="415.90" y1="320.04" x2="415.90" y2="325.53" stroke="#5a5a5a" stroke-width="1"/>
<rect x="332.00" y="317.29" width="60.30" height="10.98" fill="#9A8FC3" stroke="#3a3a3a" stroke-width="1"/>
<line x1="366.20" y1="317.29" x2="366.20" y2="328.27" stroke="#3a3a3a" stroke-width="1.1"/>
<path d="M361.10,325.58 L367.30,325.58 L364.20,319.98 Z" fill="#2BA84A"/>
<line x1="289.00" y1="336.51" x2="334.70" y2="336.51" stroke="#5a5a5a" stroke-width="1"/>
<line x1="381.10" y1="336.51" x2="415.90" y2="336.51" stroke="#5a5a5a" stroke-width="1"/>
<line x1="289.00" y1="333.76" x2="289.00" y2="339.25" stroke="#5a5a5a" stroke-width="1"/>
<line x1="415.90" y1="333.76" x2="415.90" y2="339.25" stroke="#5a5a5a" stroke-width="1"/>
<rect x="334.70" y="331.02" width="46.40" height="10.98" fill="#7EB878" stroke="#3a3a3a" stroke-width="1"/>
<line x1="362.80" y1="331.02" x2="362.80" y2="342.00" stroke="#3a3a3a" stroke-width="1.1"/>
<path d="M353.40,339.31 L359.60,339.31 L356.50,333.71 Z" fill="#2BA84A"/>
<line x1="303.40" y1="350.24" x2="354.80" y2="350.24" stroke="#5a5a5a" stroke-width="1"/>
<line x1="389.30" y1="350.24" x2="415.90" y2="350.24" stroke="#5a5a5a" stroke-width="1"/>
<line x1="303.40" y1="347.49" x2="303.40" y2="352.98" stroke="#5a5a5a" stroke-width="1"/>
<line x1="415.90" y1="347.49" x2="415.90" y2="352.98" stroke="#5a5a5a" stroke-width="1"/>
<rect x="354.80" y="344.75" width="34.50" height="10.98" fill="#1AB7BA" stroke="#3a3a3a" stroke-width="1"/>
<line x1="384.30" y1="344.75" x2="384.30" y2="355.73" stroke="#3a3a3a" stroke-width="1.1"/>
<path d="M366.40,353.04 L372.60,353.04 L369.50,347.44 Z" fill="#2BA84A"/>
<line x1="274.40" y1="357.10" x2="274.40" y2="359.90" stroke="#777777" stroke-width="1"/>
<text x="274.4" y="369.2" font-size="10.8" text-anchor="middle" fill="#2b2b2b">0.0</text>
<line x1="302.70" y1="357.10" x2="302.70" y2="359.90" stroke="#777777" stroke-width="1"/>
<text x="302.7" y="369.2" font-size="10.8" text-anchor="middle" fill="#2b2b2b">0.2</text>
<line x1="331.00" y1="357.10" x2="331.00" y2="359.90" stroke="#777777" stroke-width="1"/>
<text x="331.0" y="369.2" font-size="10.8" text-anchor="middle" fill="#2b2b2b">0.4</text>
<line x1="359.30" y1="357.10" x2="359.30" y2="359.90" stroke="#777777" stroke-width="1"/>
<text x="359.3" y="369.2" font-size="10.8" text-anchor="middle" fill="#2b2b2b">0.6</text>
<line x1="387.60" y1="357.10" x2="387.60" y2="359.90" stroke="#777777" stroke-width="1"/>
<text x="387.6" y="369.2" font-size="10.8" text-anchor="middle" fill="#2b2b2b">0.8</text>
<line x1="415.90" y1="357.10" x2="415.90" y2="359.90" stroke="#777777" stroke-width="1"/>
<text x="415.9" y="369.2" font-size="10.8" text-anchor="middle" fill="#2b2b2b">1.0</text>
<line x1="514.30" y1="25.60" x2="514.30" y2="357.80" stroke="#555" stroke-width="1"/>
<line x1="513.80" y1="357.30" x2="685.00" y2="357.30" stroke="#555" stroke-width="1"/>
<text x="601.3" y="20.7" font-size="10.8" text-anchor="middle" fill="#2b2b2b">Accuracy Score</text>
<path d="M604.20,41.10 C605.00,40.95 607.25,40.42 609.00,40.20 C610.75,39.98 612.87,39.88 614.70,39.80 C616.53,39.72 618.25,39.70 620.00,39.70 C621.75,39.70 623.67,39.77 625.20,39.80 C626.73,39.83 627.90,39.97 629.20,39.90 C630.50,39.83 631.70,39.60 633.00,39.40 C634.30,39.20 635.67,39.05 637.00,38.70 C638.33,38.35 639.68,37.83 641.00,37.30 C642.32,36.77 643.37,36.42 644.90,35.50 C646.43,34.58 648.45,32.80 650.20,31.80 C651.95,30.80 653.87,29.98 655.40,29.50 C656.93,29.02 658.08,28.78 659.40,28.90 C660.72,29.02 661.77,29.22 663.30,30.20 C664.83,31.18 667.07,33.48 668.60,34.80 C670.13,36.12 671.47,37.05 672.50,38.10 C673.53,39.15 674.42,40.60 674.80,41.10 L674.80,41.10 C674.42,41.60 673.53,43.05 672.50,44.10 C671.47,45.15 670.13,46.08 668.60,47.40 C667.07,48.72 664.83,51.02 663.30,52.00 C661.77,52.98 660.72,53.18 659.40,53.30 C658.08,53.42 656.93,53.18 655.40,52.70 C653.87,52.22 651.95,51.40 650.20,50.40 C648.45,49.40 646.43,47.62 644.90,46.70 C643.37,45.78 642.32,45.43 641.00,44.90 C639.68,44.37 638.33,43.85 637.00,43.50 C635.67,43.15 634.30,43.00 633.00,42.80 C631.70,42.60 630.50,42.37 629.20,42.30 C627.90,42.23 626.73,42.37 625.20,42.40 C623.67,42.43 621.75,42.50 620.00,42.50 C618.25,42.50 616.53,42.48 614.70,42.40 C612.87,42.32 610.75,42.22 609.00,42.00 C607.25,41.78 605.00,41.25 604.20,41.10 Z" fill="#5470BE" stroke="#333" stroke-width="0.8"/>
<line x1="630.00" y1="41.10" x2="673.50" y2="41.10" stroke="#444" stroke-width="0.8"/>
<line x1="646.20" y1="41.10" x2="662.70" y2="41.10" stroke="#666" stroke-width="2.0"/>
<rect x="654.90" y="40.20" width="1.8" height="1.8" fill="#fff"/>
<line x1="511.50" y1="41.10" x2="514.30" y2="41.10" stroke="#555" stroke-width="1"/>
<text x="510.3" y="45.0" font-size="10.8" text-anchor="end" fill="#2b2b2b">Spoint</text>
<path d="M583.30,71.30 C584.75,71.20 588.38,70.83 592.00,70.70 C595.62,70.57 601.33,70.60 605.00,70.50 C608.67,70.40 611.50,70.30 614.00,70.10 C616.50,69.90 618.17,69.77 620.00,69.30 C621.83,68.83 623.33,68.03 625.00,67.30 C626.67,66.57 628.17,65.63 630.00,64.90 C631.83,64.17 634.07,63.37 636.00,62.90 C637.93,62.43 639.77,62.17 641.60,62.10 C643.43,62.03 645.10,62.17 647.00,62.50 C648.90,62.83 651.17,63.53 653.00,64.10 C654.83,64.67 656.33,65.20 658.00,65.90 C659.67,66.60 661.33,67.63 663.00,68.30 C664.67,68.97 666.42,69.40 668.00,69.90 C669.58,70.40 671.75,71.07 672.50,71.30 L672.50,71.30 C671.75,71.53 669.58,72.20 668.00,72.70 C666.42,73.20 664.67,73.63 663.00,74.30 C661.33,74.97 659.67,76.00 658.00,76.70 C656.33,77.40 654.83,77.93 653.00,78.50 C651.17,79.07 648.90,79.77 647.00,80.10 C645.10,80.43 643.43,80.57 641.60,80.50 C639.77,80.43 637.93,80.17 636.00,79.70 C634.07,79.23 631.83,78.43 630.00,77.70 C628.17,76.97 626.67,76.03 625.00,75.30 C623.33,74.57 621.83,73.77 620.00,73.30 C618.17,72.83 616.50,72.70 614.00,72.50 C611.50,72.30 608.67,72.20 605.00,72.10 C601.33,72.00 595.62,72.03 592.00,71.90 C588.38,71.77 584.75,71.40 583.30,71.30 Z" fill="#9BCF5B" stroke="#333" stroke-width="0.8"/>
<line x1="617.00" y1="71.30" x2="659.00" y2="71.30" stroke="#444" stroke-width="0.8"/>
<line x1="631.40" y1="71.30" x2="648.00" y2="71.30" stroke="#666" stroke-width="2.0"/>
<rect x="640.10" y="70.40" width="1.8" height="1.8" fill="#fff"/>
<line x1="511.50" y1="71.30" x2="514.30" y2="71.30" stroke="#555" stroke-width="1"/>
<text x="510.3" y="75.2" font-size="10.8" text-anchor="end" fill="#2b2b2b">Cell2location</text>
<path d="M551.60,101.40 C553.83,101.27 560.27,100.90 565.00,100.60 C569.73,100.30 575.00,99.97 580.00,99.60 C585.00,99.23 590.00,98.83 595.00,98.40 C600.00,97.97 605.83,97.40 610.00,97.00 C614.17,96.60 617.50,96.20 620.00,96.00 C622.50,95.80 623.00,95.78 625.00,95.80 C627.00,95.82 629.17,95.87 632.00,96.10 C634.83,96.33 638.67,96.78 642.00,97.20 C645.33,97.62 648.67,98.13 652.00,98.60 C655.33,99.07 659.00,99.63 662.00,100.00 C665.00,100.37 667.45,100.57 670.00,100.80 C672.55,101.03 676.08,101.30 677.30,101.40 L677.30,101.40 C676.08,101.50 672.55,101.77 670.00,102.00 C667.45,102.23 665.00,102.43 662.00,102.80 C659.00,103.17 655.33,103.73 652.00,104.20 C648.67,104.67 645.33,105.18 642.00,105.60 C638.67,106.02 634.83,106.47 632.00,106.70 C629.17,106.93 627.00,106.98 625.00,107.00 C623.00,107.02 622.50,107.00 620.00,106.80 C617.50,106.60 614.17,106.20 610.00,105.80 C605.83,105.40 600.00,104.83 595.00,104.40 C590.00,103.97 585.00,103.57 580.00,103.20 C575.00,102.83 569.73,102.50 565.00,102.20 C560.27,101.90 553.83,101.53 551.60,101.40 Z" fill="#E6D944" stroke="#333" stroke-width="0.8"/>
<line x1="571.30" y1="101.40" x2="657.00" y2="101.40" stroke="#444" stroke-width="0.8"/>
<line x1="604.50" y1="101.40" x2="632.60" y2="101.40" stroke="#666" stroke-width="2.0"/>
<rect x="624.10" y="100.50" width="1.8" height="1.8" fill="#fff"/>
<line x1="511.50" y1="101.40" x2="514.30" y2="101.40" stroke="#555" stroke-width="1"/>
<text x="510.3" y="105.3" font-size="10.8" text-anchor="end" fill="#2b2b2b">SpatialDWLS</text>
<path d="M539.40,131.60 C542.00,131.50 549.90,131.17 555.00,131.00 C560.10,130.83 564.73,130.72 570.00,130.60 C575.27,130.48 581.60,130.50 586.60,130.30 C591.60,130.10 595.73,129.73 600.00,129.40 C604.27,129.07 608.53,128.68 612.20,128.30 C615.87,127.92 618.60,127.40 622.00,127.10 C625.40,126.80 629.27,126.52 632.60,126.50 C635.93,126.48 639.10,126.73 642.00,127.00 C644.90,127.27 647.30,127.75 650.00,128.10 C652.70,128.45 655.53,128.72 658.20,129.10 C660.87,129.48 663.23,129.98 666.00,130.40 C668.77,130.82 673.33,131.40 674.80,131.60 L674.80,131.60 C673.33,131.80 668.77,132.38 666.00,132.80 C663.23,133.22 660.87,133.72 658.20,134.10 C655.53,134.48 652.70,134.75 650.00,135.10 C647.30,135.45 644.90,135.93 642.00,136.20 C639.10,136.47 635.93,136.72 632.60,136.70 C629.27,136.68 625.40,136.40 622.00,136.10 C618.60,135.80 615.87,135.28 612.20,134.90 C608.53,134.52 604.27,134.13 600.00,133.80 C595.73,133.47 591.60,133.10 586.60,132.90 C581.60,132.70 575.27,132.72 570.00,132.60 C564.73,132.48 560.10,132.37 555.00,132.20 C549.90,132.03 542.00,131.70 539.40,131.60 Z" fill="#BEAAD3" stroke="#333" stroke-width="0.8"/>
<line x1="563.70" y1="131.60" x2="673.50" y2="131.60" stroke="#444" stroke-width="0.8"/>
<line x1="600.70" y1="131.60" x2="639.00" y2="131.60" stroke="#666" stroke-width="2.0"/>
<rect x="623.80" y="130.70" width="1.8" height="1.8" fill="#fff"/>
<line x1="511.50" y1="131.60" x2="514.30" y2="131.60" stroke="#555" stroke-width="1"/>
<text x="510.3" y="135.5" font-size="10.8" text-anchor="end" fill="#2b2b2b">RCTD</text>
<path d="M528.40,161.80 C530.33,161.70 535.57,161.47 540.00,161.20 C544.43,160.93 550.67,160.57 555.00,160.20 C559.33,159.83 562.50,159.33 566.00,159.00 C569.50,158.67 571.17,158.38 576.00,158.20 C580.83,158.02 588.50,157.95 595.00,157.90 C601.50,157.85 608.67,157.88 615.00,157.90 C621.33,157.92 628.33,157.92 633.00,158.00 C637.67,158.08 639.83,158.17 643.00,158.40 C646.17,158.63 648.83,159.03 652.00,159.40 C655.17,159.77 659.00,160.28 662.00,160.60 C665.00,160.92 667.57,161.10 670.00,161.30 C672.43,161.50 675.50,161.72 676.60,161.80 L676.60,161.80 C675.50,161.88 672.43,162.10 670.00,162.30 C667.57,162.50 665.00,162.68 662.00,163.00 C659.00,163.32 655.17,163.83 652.00,164.20 C648.83,164.57 646.17,164.97 643.00,165.20 C639.83,165.43 637.67,165.52 633.00,165.60 C628.33,165.68 621.33,165.68 615.00,165.70 C608.67,165.72 601.50,165.75 595.00,165.70 C588.50,165.65 580.83,165.58 576.00,165.40 C571.17,165.22 569.50,164.93 566.00,164.60 C562.50,164.27 559.33,163.77 555.00,163.40 C550.67,163.03 544.43,162.67 540.00,162.40 C535.57,162.13 530.33,161.90 528.40,161.80 Z" fill="#C3C43E" stroke="#333" stroke-width="0.8"/>
<line x1="553.40" y1="161.80" x2="663.30" y2="161.80" stroke="#444" stroke-width="0.8"/>
<line x1="589.20" y1="161.80" x2="629.60" y2="161.80" stroke="#666" stroke-width="2.0"/>
<rect x="607.70" y="160.90" width="1.8" height="1.8" fill="#fff"/>
<line x1="511.50" y1="161.80" x2="514.30" y2="161.80" stroke="#555" stroke-width="1"/>
<text x="510.3" y="165.7" font-size="10.8" text-anchor="end" fill="#2b2b2b">STRIDE</text>
<path d="M529.20,192.00 C531.00,191.87 535.70,191.42 540.00,191.20 C544.30,190.98 550.00,190.83 555.00,190.70 C560.00,190.57 565.17,190.55 570.00,190.40 C574.83,190.25 580.00,190.13 584.00,189.80 C588.00,189.47 591.33,188.87 594.00,188.40 C596.67,187.93 598.03,187.38 600.00,187.00 C601.97,186.62 603.80,186.20 605.80,186.10 C607.80,186.00 609.63,186.12 612.00,186.40 C614.37,186.68 617.00,187.25 620.00,187.80 C623.00,188.35 626.67,189.20 630.00,189.70 C633.33,190.20 636.37,190.42 640.00,190.80 C643.63,191.18 649.83,191.80 651.80,192.00 L651.80,192.00 C649.83,192.20 643.63,192.82 640.00,193.20 C636.37,193.58 633.33,193.80 630.00,194.30 C626.67,194.80 623.00,195.65 620.00,196.20 C617.00,196.75 614.37,197.32 612.00,197.60 C609.63,197.88 607.80,198.00 605.80,197.90 C603.80,197.80 601.97,197.38 600.00,197.00 C598.03,196.62 596.67,196.07 594.00,195.60 C591.33,195.13 588.00,194.53 584.00,194.20 C580.00,193.87 574.83,193.75 570.00,193.60 C565.17,193.45 560.00,193.43 555.00,193.30 C550.00,193.17 544.30,193.02 540.00,192.80 C535.70,192.58 531.00,192.13 529.20,192.00 Z" fill="#A8C8C9" stroke="#333" stroke-width="0.8"/>
<line x1="550.90" y1="192.00" x2="645.40" y2="192.00" stroke="#444" stroke-width="0.8"/>
<line x1="586.60" y1="192.00" x2="618.60" y2="192.00" stroke="#666" stroke-width="2.0"/>
<rect x="601.60" y="191.10" width="1.8" height="1.8" fill="#fff"/>
<line x1="511.50" y1="192.00" x2="514.30" y2="192.00" stroke="#555" stroke-width="1"/>
<text x="510.3" y="195.9" font-size="10.8" text-anchor="end" fill="#2b2b2b">DestVI</text>
<path d="M535.50,222.20 C537.58,222.07 543.75,221.65 548.00,221.40 C552.25,221.15 557.33,221.07 561.00,220.70 C564.67,220.33 567.17,219.75 570.00,219.20 C572.83,218.65 575.67,217.83 578.00,217.40 C580.33,216.97 581.67,216.68 584.00,216.60 C586.33,216.52 589.33,216.73 592.00,216.90 C594.67,217.07 597.50,217.40 600.00,217.60 C602.50,217.80 604.50,217.87 607.00,218.10 C609.50,218.33 612.00,218.65 615.00,219.00 C618.00,219.35 621.33,219.83 625.00,220.20 C628.67,220.57 632.10,220.87 637.00,221.20 C641.90,221.53 651.50,222.03 654.40,222.20 L654.40,222.20 C651.50,222.37 641.90,222.87 637.00,223.20 C632.10,223.53 628.67,223.83 625.00,224.20 C621.33,224.57 618.00,225.05 615.00,225.40 C612.00,225.75 609.50,226.07 607.00,226.30 C604.50,226.53 602.50,226.60 600.00,226.80 C597.50,227.00 594.67,227.33 592.00,227.50 C589.33,227.67 586.33,227.88 584.00,227.80 C581.67,227.72 580.33,227.43 578.00,227.00 C575.67,226.57 572.83,225.75 570.00,225.20 C567.17,224.65 564.67,224.07 561.00,223.70 C557.33,223.33 552.25,223.25 548.00,223.00 C543.75,222.75 537.58,222.33 535.50,222.20 Z" fill="#86CBE6" stroke="#333" stroke-width="0.8"/>
<line x1="556.00" y1="222.20" x2="635.20" y2="222.20" stroke="#444" stroke-width="0.8"/>
<line x1="580.30" y1="222.20" x2="608.40" y2="222.20" stroke="#666" stroke-width="2.0"/>
<rect x="587.80" y="221.30" width="1.8" height="1.8" fill="#fff"/>
<line x1="511.50" y1="222.20" x2="514.30" y2="222.20" stroke="#555" stroke-width="1"/>
<text x="510.3" y="226.1" font-size="10.8" text-anchor="end" fill="#2b2b2b">Tangram</text>
<path d="M524.10,252.30 C526.75,252.15 534.85,251.73 540.00,251.40 C545.15,251.07 550.67,250.65 555.00,250.30 C559.33,249.95 562.83,249.55 566.00,249.30 C569.17,249.05 570.00,248.92 574.00,248.80 C578.00,248.68 584.83,248.62 590.00,248.60 C595.17,248.58 601.33,248.65 605.00,248.70 C608.67,248.75 609.17,248.73 612.00,248.90 C614.83,249.07 618.67,249.40 622.00,249.70 C625.33,250.00 628.67,250.40 632.00,250.70 C635.33,251.00 638.78,251.23 642.00,251.50 C645.22,251.77 649.75,252.17 651.30,252.30 L651.30,252.30 C649.75,252.43 645.22,252.83 642.00,253.10 C638.78,253.37 635.33,253.60 632.00,253.90 C628.67,254.20 625.33,254.60 622.00,254.90 C618.67,255.20 614.83,255.53 612.00,255.70 C609.17,255.87 608.67,255.85 605.00,255.90 C601.33,255.95 595.17,256.02 590.00,256.00 C584.83,255.98 578.00,255.92 574.00,255.80 C570.00,255.68 569.17,255.55 566.00,255.30 C562.83,255.05 559.33,254.65 555.00,254.30 C550.67,253.95 545.15,253.53 540.00,253.20 C534.85,252.87 526.75,252.45 524.10,252.30 Z" fill="#EFA8C8" stroke="#333" stroke-width="0.8"/>
<line x1="548.30" y1="252.30" x2="626.20" y2="252.30" stroke="#444" stroke-width="0.8"/>
<line x1="565.70" y1="252.30" x2="609.10" y2="252.30" stroke="#666" stroke-width="2.0"/>
<rect x="587.80" y="251.40" width="1.8" height="1.8" fill="#fff"/>
<line x1="511.50" y1="252.30" x2="514.30" y2="252.30" stroke="#555" stroke-width="1"/>
<text x="510.3" y="256.2" font-size="10.8" text-anchor="end" fill="#2b2b2b">Stereoscope</text>
<path d="M534.30,282.50 C535.75,282.35 540.23,281.85 543.00,281.60 C545.77,281.35 548.57,281.43 550.90,281.00 C553.23,280.57 554.98,279.75 557.00,279.00 C559.02,278.25 560.83,277.20 563.00,276.50 C565.17,275.80 567.67,274.97 570.00,274.80 C572.33,274.63 574.50,275.10 577.00,275.50 C579.50,275.90 582.53,276.75 585.00,277.20 C587.47,277.65 589.30,277.85 591.80,278.20 C594.30,278.55 597.47,278.97 600.00,279.30 C602.53,279.63 604.67,279.83 607.00,280.20 C609.33,280.57 611.85,281.12 614.00,281.50 C616.15,281.88 618.92,282.33 619.90,282.50 L619.90,282.50 C618.92,282.67 616.15,283.12 614.00,283.50 C611.85,283.88 609.33,284.43 607.00,284.80 C604.67,285.17 602.53,285.37 600.00,285.70 C597.47,286.03 594.30,286.45 591.80,286.80 C589.30,287.15 587.47,287.35 585.00,287.80 C582.53,288.25 579.50,289.10 577.00,289.50 C574.50,289.90 572.33,290.37 570.00,290.20 C567.67,290.03 565.17,289.20 563.00,288.50 C560.83,287.80 559.02,286.75 557.00,286.00 C554.98,285.25 553.23,284.43 550.90,284.00 C548.57,283.57 545.77,283.65 543.00,283.40 C540.23,283.15 535.75,282.65 534.30,282.50 Z" fill="#9A8FC3" stroke="#333" stroke-width="0.8"/>
<line x1="548.30" y1="282.50" x2="605.00" y2="282.50" stroke="#444" stroke-width="0.8"/>
<line x1="565.70" y1="282.50" x2="586.60" y2="282.50" stroke="#666" stroke-width="2.0"/>
<rect x="573.00" y="281.60" width="1.8" height="1.8" fill="#fff"/>
<line x1="511.50" y1="282.50" x2="514.30" y2="282.50" stroke="#555" stroke-width="1"/>
<text x="510.3" y="286.4" font-size="10.8" text-anchor="end" fill="#2b2b2b">SPOTlight</text>
<path d="M521.50,312.70 C522.92,312.53 526.80,312.13 530.00,311.70 C533.20,311.27 537.37,310.63 540.70,310.10 C544.03,309.57 546.78,309.03 550.00,308.50 C553.22,307.97 556.87,307.27 560.00,306.90 C563.13,306.53 565.80,306.30 568.80,306.30 C571.80,306.30 574.97,306.55 578.00,306.90 C581.03,307.25 584.28,307.93 587.00,308.40 C589.72,308.87 592.13,309.28 594.30,309.70 C596.47,310.12 598.05,310.58 600.00,310.90 C601.95,311.22 602.67,311.43 606.00,311.60 C609.33,311.77 614.33,311.80 620.00,311.90 C625.67,312.00 634.48,312.07 640.00,312.20 C645.52,312.33 650.92,312.62 653.10,312.70 L653.10,312.70 C650.92,312.78 645.52,313.07 640.00,313.20 C634.48,313.33 625.67,313.40 620.00,313.50 C614.33,313.60 609.33,313.63 606.00,313.80 C602.67,313.97 601.95,314.18 600.00,314.50 C598.05,314.82 596.47,315.28 594.30,315.70 C592.13,316.12 589.72,316.53 587.00,317.00 C584.28,317.47 581.03,318.15 578.00,318.50 C574.97,318.85 571.80,319.10 568.80,319.10 C565.80,319.10 563.13,318.87 560.00,318.50 C556.87,318.13 553.22,317.43 550.00,316.90 C546.78,316.37 544.03,315.83 540.70,315.30 C537.37,314.77 533.20,314.13 530.00,313.70 C526.80,313.27 522.92,312.87 521.50,312.70 Z" fill="#7EB878" stroke="#333" stroke-width="0.8"/>
<line x1="542.00" y1="312.70" x2="602.00" y2="312.70" stroke="#444" stroke-width="0.8"/>
<line x1="556.00" y1="312.70" x2="579.00" y2="312.70" stroke="#666" stroke-width="2.0"/>
<rect x="567.40" y="311.80" width="1.8" height="1.8" fill="#fff"/>
<line x1="511.50" y1="312.70" x2="514.30" y2="312.70" stroke="#555" stroke-width="1"/>
<text x="510.3" y="316.6" font-size="10.8" text-anchor="end" fill="#2b2b2b">Seurat</text>
<path d="M528.70,342.90 C529.25,342.73 530.87,342.20 532.00,341.90 C533.13,341.60 534.00,341.68 535.50,341.10 C537.00,340.52 539.25,339.35 541.00,338.40 C542.75,337.45 544.35,336.10 546.00,335.40 C547.65,334.70 549.23,334.25 550.90,334.20 C552.57,334.15 554.15,334.48 556.00,335.10 C557.85,335.72 559.87,337.13 562.00,337.90 C564.13,338.67 566.13,339.45 568.80,339.70 C571.47,339.95 575.03,339.50 578.00,339.40 C580.97,339.30 584.10,339.05 586.60,339.10 C589.10,339.15 590.87,339.45 593.00,339.70 C595.13,339.95 597.23,340.27 599.40,340.60 C601.57,340.93 603.65,341.32 606.00,341.70 C608.35,342.08 612.25,342.70 613.50,342.90 L613.50,342.90 C612.25,343.10 608.35,343.72 606.00,344.10 C603.65,344.48 601.57,344.87 599.40,345.20 C597.23,345.53 595.13,345.85 593.00,346.10 C590.87,346.35 589.10,346.65 586.60,346.70 C584.10,346.75 580.97,346.50 578.00,346.40 C575.03,346.30 571.47,345.85 568.80,346.10 C566.13,346.35 564.13,347.13 562.00,347.90 C559.87,348.67 557.85,350.08 556.00,350.70 C554.15,351.32 552.57,351.65 550.90,351.60 C549.23,351.55 547.65,351.10 546.00,350.40 C544.35,349.70 542.75,348.35 541.00,347.40 C539.25,346.45 537.00,345.28 535.50,344.70 C534.00,344.12 533.13,344.20 532.00,343.90 C530.87,343.60 529.25,343.07 528.70,342.90 Z" fill="#1AB7BA" stroke="#333" stroke-width="0.8"/>
<line x1="545.80" y1="342.90" x2="596.90" y2="342.90" stroke="#444" stroke-width="0.8"/>
<line x1="547.00" y1="342.90" x2="579.00" y2="342.90" stroke="#666" stroke-width="2.0"/>
<rect x="553.80" y="342.00" width="1.8" height="1.8" fill="#fff"/>
<line x1="511.50" y1="342.90" x2="514.30" y2="342.90" stroke="#555" stroke-width="1"/>
<text x="510.3" y="346.8" font-size="10.8" text-anchor="end" fill="#2b2b2b">DSTG</text>
<line x1="531.30" y1="357.30" x2="531.30" y2="360.10" stroke="#555" stroke-width="1"/>
<text x="531.3" y="370.3" font-size="10.8" text-anchor="middle" fill="#2b2b2b">0.0</text>
<line x1="557.37" y1="357.30" x2="557.37" y2="360.10" stroke="#555" stroke-width="1"/>
<text x="557.4" y="370.3" font-size="10.8" text-anchor="middle" fill="#2b2b2b">0.2</text>
<line x1="583.44" y1="357.30" x2="583.44" y2="360.10" stroke="#555" stroke-width="1"/>
<text x="583.4" y="370.3" font-size="10.8" text-anchor="middle" fill="#2b2b2b">0.4</text>
<line x1="609.51" y1="357.30" x2="609.51" y2="360.10" stroke="#555" stroke-width="1"/>
<text x="609.5" y="370.3" font-size="10.8" text-anchor="middle" fill="#2b2b2b">0.6</text>
<line x1="635.58" y1="357.30" x2="635.58" y2="360.10" stroke="#555" stroke-width="1"/>
<text x="635.6" y="370.3" font-size="10.8" text-anchor="middle" fill="#2b2b2b">0.8</text>
<line x1="661.65" y1="357.30" x2="661.65" y2="360.10" stroke="#555" stroke-width="1"/>
<text x="661.6" y="370.3" font-size="10.8" text-anchor="middle" fill="#2b2b2b">1.0</text>
<defs>
<clipPath id="tis"><polygon points="-0.18,0.25 1.26,0.13 2.26,0.38 2.89,0.47 3.98,0.36 5.13,-0.03 6.59,0.66 7.40,0.01 9.02,0.69 10.08,0.10 9.33,0.85 8.06,2.19 7.31,3.20 7.44,5.07 7.28,6.01 7.71,6.98 7.58,7.85 7.06,9.17 7.65,10.57 7.25,11.91 7.35,12.80 7.99,14.40 8.50,13.91 9.85,13.86 11.11,12.91 12.42,12.38 12.92,12.66 13.71,12.03 14.66,11.85 16.44,11.39 17.62,10.77 18.50,10.69 19.45,10.24 20.79,10.41 21.49,9.81 22.15,9.53 23.81,9.50 25.06,8.48 25.69,8.54 26.40,8.02 27.62,7.35 28.59,7.69 29.73,6.85 31.16,7.17 32.02,6.45 33.66,6.58 35.10,6.26 35.73,5.52 36.98,5.68 38.75,4.65 39.14,4.43 40.36,4.38 41.89,3.86 42.24,3.40 43.55,2.93 45.07,2.43 45.58,1.74 46.68,0.55 47.59,2.32 48.25,3.38 48.45,4.03 48.85,5.31 49.49,5.78 50.32,6.92 51.14,7.85 51.47,8.95 52.24,10.16 52.84,11.67 54.10,11.95 54.41,13.15 55.19,13.92 56.35,15.79 57.47,15.88 58.59,16.10 58.52,17.44 58.68,18.51 57.55,20.48 57.73,20.85 57.97,21.91 58.18,24.05 58.74,24.96 58.36,25.82 58.49,27.41 59.08,28.60 59.10,29.24 59.81,31.18 59.97,32.18 60.06,33.28 59.59,34.23 59.84,34.91 59.63,36.33 59.98,37.91 60.80,38.84 60.90,40.55 61.04,41.09 60.42,42.13 60.46,43.28 60.94,45.16 61.22,45.92 61.09,47.42 60.58,48.46 61.47,49.76 61.37,50.64 60.86,52.13 61.07,53.32 61.77,54.10 61.00,55.83 61.12,56.24 60.33,57.40 60.90,59.24 59.95,60.44 60.58,61.46 58.50,61.95 56.83,62.01 56.49,62.70 54.86,63.04 53.59,63.04 52.80,62.43 51.04,62.57 49.85,62.91 48.69,62.80 47.38,63.35 46.42,62.95 45.47,63.45 44.12,63.52 43.02,63.18 41.86,62.72 40.60,62.93 38.98,63.60 37.97,63.32 37.35,63.46 35.77,63.47 34.82,63.78 33.19,63.61 32.15,63.38 31.50,63.91 30.11,64.46 29.29,64.44 27.81,64.81 26.54,65.29 25.30,65.43 24.15,66.14 23.20,66.38 22.26,65.76 20.70,66.44 19.79,65.64 17.89,65.94 16.66,65.74 15.48,66.17 15.01,66.40 13.20,66.22 12.52,65.64 11.56,66.47 9.72,66.45 8.72,65.69 8.14,65.73 6.14,65.03 5.32,64.64 5.03,63.50 5.58,62.08 5.44,61.38 4.94,60.15 5.57,59.21 5.04,58.57 5.80,57.43 5.14,55.61 5.11,55.00 5.37,53.23 5.55,52.89 5.98,51.12 5.34,50.66 5.79,49.32 5.34,47.56 5.97,46.81 5.38,46.20 5.97,44.94 5.45,43.88 5.47,42.76 5.85,41.06 5.95,40.47 5.67,38.50 5.93,37.43 5.51,36.18 5.45,35.04 5.71,33.97 6.16,32.77 5.90,31.49 5.75,30.15 5.65,28.97 6.13,28.33 5.59,27.07 5.31,26.13 4.17,25.88 2.82,25.71 1.69,24.81 1.91,24.18 1.48,22.93 1.76,21.64 1.38,20.25 0.95,18.93 0.88,18.44 0.98,16.76 0.73,16.34 1.43,15.07 0.76,13.54 0.69,12.66 0.48,11.55 0.50,10.96 1.13,9.45 0.32,8.77 0.30,7.06 -0.09,5.98 0.30,5.00 -0.05,3.90 -0.33,2.56 -0.33,1.60"/></clipPath>
<clipPath id="pout"><polygon points="4.60,21.60 6.50,21.00 12.00,18.70 18.30,16.50 24.00,13.50 30.10,10.60 36.00,8.00 41.80,5.90 45.40,5.30 48.90,9.40 52.40,15.30 54.80,22.40 56.60,30.70 57.20,40.10 57.70,48.30 58.30,56.60 58.50,70.00 4.60,70.00"/></clipPath>
<clipPath id="pin"><polygon points="-3.00,33.00 7.70,31.80 13.00,28.90 18.30,26.00 23.00,23.30 27.70,20.60 31.80,19.00 35.90,17.70 40.70,18.90 44.20,22.40 46.50,28.30 48.30,36.50 48.30,44.80 46.50,51.90 43.00,57.80 40.00,62.00 38.00,70.00 -3.00,70.00"/></clipPath>
<linearGradient id="vgrad" x1="0" x2="1" y1="0" y2="0"><stop offset="0.000" stop-color="#440154"/><stop offset="0.125" stop-color="#472c7b"/><stop offset="0.250" stop-color="#3a528b"/><stop offset="0.375" stop-color="#2c728e"/><stop offset="0.500" stop-color="#20908c"/><stop offset="0.625" stop-color="#28ae7f"/><stop offset="0.750" stop-color="#5ec961"/><stop offset="0.875" stop-color="#addc30"/><stop offset="1.000" stop-color="#fde724"/></linearGradient>
<filter id="blur2" x="-0.3" y="-0.3" width="1.6" height="1.6"><feGaussianBlur stdDeviation="1.8"/></filter>
<mask id="c2lm" maskUnits="userSpaceOnUse" x="-10" y="-10" width="80" height="90"><polygon points="-3.00,36.00 6.00,35.00 14.00,33.00 22.00,32.00 29.00,33.00 33.00,37.00 35.00,44.00 34.50,52.00 32.00,60.00 30.00,70.00 -3.00,70.00" fill="#fff" filter="url(#blur2)"/></mask>
<mask id="dsm" maskUnits="userSpaceOnUse" x="-10" y="-10" width="80" height="90"><polygon points="-3.00,36.00 8.00,35.00 18.00,38.00 26.00,44.00 30.00,52.00 31.00,70.00 -3.00,70.00" fill="#fff" filter="url(#blur2)"/></mask>
<clipPath id="c2lr2"><path d="M57.70,21.20 L59.00,16.50 L56.00,15.30 L51.30,8.30 L46.50,1.00 L41.80,4.10 L30.10,7.10 L18.30,10.60 L7.70,14.20 L7.50,13.40 L7.50,17.01 L19.09,13.08 L30.79,9.61 L42.87,6.51 L45.76,4.60 L49.13,9.74 L52.00,14.00 L52.00,14.00 L52.04,14.06 L54.29,17.42 L55.87,18.05 L55.42,19.70 L58.00,24.00 L58.23,24.00 L57.70,21.20 Z M7.70,2.40 L10.00,0.20 L7.50,0.30 L7.50,9.47 L7.70,2.40 Z"/></clipPath>
<clipPath id="c2ls"><polygon points="-3.00,-3.00 12.00,-3.00 9.50,14.00 6.00,19.00 6.00,26.00 -3.00,26.00"/></clipPath>
<clipPath id="c2lr"><polygon points="6.50,21.00 12.00,18.70 18.30,16.50 24.00,13.50 30.10,10.60 36.00,8.00 41.80,5.90 45.40,5.30 48.90,9.40 52.40,15.30 54.80,22.40 56.60,30.70 57.20,40.10 57.70,48.30 58.30,56.60 58.50,70.00 65.00,70.00 65.00,-3.00 7.00,-3.00"/></clipPath>
<clipPath id="l4"><path d="M-9.00,70.00 L-8.97,70.59 L-8.88,71.17 L-8.74,71.74 L-8.54,72.30 L-8.29,72.83 L-7.99,73.33 L-7.64,73.81 L-7.24,74.24 L-6.81,74.64 L-6.33,74.99 L-5.83,75.29 L-5.30,75.54 L-4.74,75.74 L-4.17,75.88 L-3.59,75.97 L-3.00,76.00 L38.00,76.00 L38.57,75.97 L39.13,75.89 L39.68,75.76 L40.22,75.57 L40.74,75.34 L41.23,75.06 L41.69,74.73 L42.12,74.36 L42.52,73.95 L42.87,73.50 L43.18,73.03 L43.44,72.53 L43.66,72.00 L43.82,71.46 L45.54,64.56 L47.88,61.29 L48.16,60.86 L51.66,54.96 L51.93,54.45 L52.15,53.92 L52.32,53.37 L54.12,46.27 L54.22,45.79 L54.28,45.30 L54.30,44.80 L54.30,36.50 L54.27,35.85 L54.16,35.21 L52.36,27.01 L52.24,26.56 L52.09,26.12 L49.79,20.22 L49.54,19.66 L49.22,19.12 L48.86,18.62 L48.44,18.16 L44.94,14.66 L44.54,14.29 L44.11,13.97 L43.66,13.68 L43.17,13.43 L42.67,13.23 L42.16,13.08 L37.36,11.88 L36.81,11.77 L36.27,11.71 L35.71,11.70 L35.16,11.75 L34.62,11.84 L34.09,11.98 L29.99,13.28 L29.62,13.41 L25.52,15.01 L25.11,15.19 L24.71,15.40 L15.37,20.77 L10.12,23.64 L5.86,25.97 L-3.67,27.04 L-4.24,27.13 L-4.81,27.28 L-5.36,27.48 L-5.88,27.74 L-6.38,28.04 L-6.84,28.39 L-7.27,28.79 L-7.66,29.22 L-8.01,29.69 L-8.30,30.20 L-8.55,30.72 L-8.75,31.27 L-8.89,31.84 L-8.97,32.42 L-9.00,33.00 L-9.00,70.00 Z"/></clipPath>
<clipPath id="seud"><polygon points="-3.00,36.00 4.30,35.40 16.00,34.00 29.00,33.50 30.50,36.00 30.50,70.00 -3.00,70.00"/></clipPath>
<clipPath id="dsll"><polygon points="-3.00,38.00 8.00,36.00 18.00,38.00 26.00,42.00 31.00,50.00 32.00,70.00 -3.00,70.00"/></clipPath>
<filter id="blur1" x="-0.2" y="-0.2" width="1.4" height="1.4"><feGaussianBlur stdDeviation="1.6"/></filter>
</defs>
<rect x="15.8" y="408.5" width="70.1" height="72.9" fill="#A8AAAA"/>
<g transform="translate(19.1,412.0)">
<g clip-path="url(#tis)">
<rect x="-1" y="-1" width="64" height="69" fill="#D584C0"/>
<path d="M3.50,71.10 L59.62,71.10 L59.56,67.00 L62.00,67.00 L62.00,48.00 L61.50,40.00 L60.00,30.70 L58.00,22.00 L55.00,14.50 L51.00,8.50 L47.00,4.00 L44.00,4.20 L44.23,4.38 L41.52,4.83 L35.59,6.98 L29.64,9.60 L23.51,12.52 L17.86,15.49 L11.61,17.67 L6.12,19.97 L3.50,20.79 L3.50,71.10 Z" fill="#E2AA8C"/>
<path d="M4.60,21.60 L6.50,21.00 L12.00,18.70 L18.30,16.50 L24.00,13.50 L30.10,10.60 L36.00,8.00 L41.80,5.90 L45.40,5.30 L48.90,9.40 L52.40,15.30 L54.80,22.40 L56.60,30.70 L57.20,40.10 L57.70,48.30 L58.30,56.60 L58.50,70.00 L4.60,70.00 L4.60,21.60 Z" fill="#6DBBA8"/>
<path d="M-5.60,30.68 L-5.60,72.60 L40.03,72.60 L42.40,63.11 L45.18,59.22 L48.93,52.90 L50.90,45.12 L50.90,36.22 L49.00,27.54 L46.42,20.95 L42.03,16.55 L35.82,15.00 L30.93,16.55 L26.57,18.25 L17.03,23.73 L11.75,26.62 L6.90,29.27 L-5.60,30.68 Z" fill="#E9836D"/>
<path d="M-3.20,32.82 L-3.20,70.20 L38.16,70.20 L40.18,62.09 L43.17,57.91 L46.69,51.98 L48.50,44.82 L48.50,36.48 L46.69,28.24 L44.37,22.29 L40.80,18.72 L35.89,17.49 L31.73,18.81 L27.61,20.42 L18.20,25.83 L12.90,28.72 L7.64,31.61 L-3.20,32.82 Z" fill="#A7BA66"/>
<path d="M-3.00,44.50 L4.70,43.90 L11.00,38.50 L17.70,34.00 L23.00,30.50 L28.90,28.40 L36.40,28.40 L39.50,32.80 L40.30,39.00 L40.10,45.20 L37.60,55.10 L32.70,62.60 L31.00,70.00 L-3.00,70.00 L-3.00,44.50 Z" fill="#8F93C9"/>
<path d="M-3.00,51.50 L4.10,50.30 L8.00,47.60 L12.80,44.60 L17.00,42.00 L22.70,39.60 L27.70,38.00 L30.20,41.60 L30.40,46.00 L30.20,52.60 L29.50,62.60 L29.00,70.00 L-3.00,70.00 L-3.00,51.50 Z" fill="#E2B546"/>
</g>
<path d="M6.50,21.00 L12.00,18.70 L18.30,16.50 L24.00,13.50 L30.10,10.60 L36.00,8.00 L41.80,5.90 L45.40,5.30 L48.90,9.40 L52.40,15.30 L54.80,22.40 L56.60,30.70 L57.20,40.10 L57.70,48.30 L58.30,56.60" fill="none" stroke="#fff" stroke-width="1.1" stroke-dasharray="2.6 2"/>
<path d="M7.70,31.80 L13.00,28.90 L18.30,26.00 L23.00,23.30 L27.70,20.60 L31.80,19.00 L35.90,17.70 L40.70,18.90 L44.20,22.40 L46.50,28.30 L48.30,36.50 L48.30,44.80 L46.50,51.90 L43.00,57.80 L40.00,62.00" fill="none" stroke="#fff" stroke-width="1.1" stroke-dasharray="2.6 2"/>
</g>
<g transform="translate(90.40,414.70)">
<g clip-path="url(#tis)">
<filter id="f0" x="0" y="0" width="1" height="1" color-interpolation-filters="sRGB"><feTurbulence type="fractalNoise" baseFrequency="0.55" numOctaves="2" seed="1"/><feColorMatrix type="matrix" values="5.000 0 0 0 -3.600  5.000 0 0 0 -3.600  5.000 0 0 0 -3.600  0 0 0 0 1"/><feComponentTransfer><feFuncR type="table" tableValues="0.255 0.282 0.279 0.259 0.230 0.199 0.173 0.149 0.128 0.121 0.158 0.246 0.369 0.516 0.678 0.846 0.993"/><feFuncG type="table" tableValues="0.070 0.095 0.175 0.252 0.322 0.388 0.449 0.508 0.567 0.626 0.684 0.739 0.789 0.831 0.864 0.887 0.906"/><feFuncB type="table" tableValues="0.310 0.417 0.483 0.525 0.546 0.555 0.558 0.557 0.551 0.533 0.502 0.452 0.383 0.294 0.190 0.100 0.144"/></feComponentTransfer></filter>
<rect x="-1" y="-1" width="64" height="69" filter="url(#f0)"/>
<filter id="f1" x="0" y="0" width="1" height="1" color-interpolation-filters="sRGB"><feTurbulence type="fractalNoise" baseFrequency="0.55" numOctaves="2" seed="2"/><feColorMatrix type="matrix" values="3.000 0 0 0 -1.800  3.000 0 0 0 -1.800  3.000 0 0 0 -1.800  0 0 0 0 1"/><feComponentTransfer><feFuncR type="table" tableValues="0.255 0.282 0.279 0.259 0.230 0.199 0.173 0.149 0.128 0.121 0.158 0.246 0.369 0.516 0.678 0.846 0.993"/><feFuncG type="table" tableValues="0.070 0.095 0.175 0.252 0.322 0.388 0.449 0.508 0.567 0.626 0.684 0.739 0.789 0.831 0.864 0.887 0.906"/><feFuncB type="table" tableValues="0.310 0.417 0.483 0.525 0.546 0.555 0.558 0.557 0.551 0.533 0.502 0.452 0.383 0.294 0.190 0.100 0.144"/></feComponentTransfer></filter>
<rect x="-1" y="-1" width="64" height="69" filter="url(#f1)" clip-path="url(#pout)"/>
<filter id="f2" x="0" y="0" width="1" height="1" color-interpolation-filters="sRGB"><feTurbulence type="fractalNoise" baseFrequency="0.55" numOctaves="2" seed="3"/><feColorMatrix type="matrix" values="2.400 0 0 0 -1.050  2.400 0 0 0 -1.050  2.400 0 0 0 -1.050  0 0 0 0 1"/><feComponentTransfer><feFuncR type="table" tableValues="0.255 0.282 0.279 0.259 0.230 0.199 0.173 0.149 0.128 0.121 0.158 0.246 0.369 0.516 0.678 0.846 0.993"/><feFuncG type="table" tableValues="0.070 0.095 0.175 0.252 0.322 0.388 0.449 0.508 0.567 0.626 0.684 0.739 0.789 0.831 0.864 0.887 0.906"/><feFuncB type="table" tableValues="0.310 0.417 0.483 0.525 0.546 0.555 0.558 0.557 0.551 0.533 0.502 0.452 0.383 0.294 0.190 0.100 0.144"/></feComponentTransfer></filter>
<rect x="-1" y="-1" width="64" height="69" filter="url(#f2)" clip-path="url(#l4)"/>
<filter id="f3" x="0" y="0" width="1" height="1" color-interpolation-filters="sRGB"><feTurbulence type="fractalNoise" baseFrequency="0.55" numOctaves="2" seed="44"/><feColorMatrix type="matrix" values="6.000 0 0 0 -4.800  6.000 0 0 0 -4.800  6.000 0 0 0 -4.800  0 0 0 0 1"/><feComponentTransfer><feFuncR type="table" tableValues="0.255 0.282 0.279 0.259 0.230 0.199 0.173 0.149 0.128 0.121 0.158 0.246 0.369 0.516 0.678 0.846 0.993"/><feFuncG type="table" tableValues="0.070 0.095 0.175 0.252 0.322 0.388 0.449 0.508 0.567 0.626 0.684 0.739 0.789 0.831 0.864 0.887 0.906"/><feFuncB type="table" tableValues="0.310 0.417 0.483 0.525 0.546 0.555 0.558 0.557 0.551 0.533 0.502 0.452 0.383 0.294 0.190 0.100 0.144"/></feComponentTransfer></filter>
<rect x="-1" y="-1" width="64" height="69" filter="url(#f3)" clip-path="url(#pin)"/>
<filter id="f4" x="0" y="0" width="1" height="1" color-interpolation-filters="sRGB"><feTurbulence type="fractalNoise" baseFrequency="0.42" numOctaves="1" seed="50"/><feColorMatrix type="matrix" values="10.000 0 0 0 -7.200  10.000 0 0 0 -7.200  10.000 0 0 0 -7.200  250.000 0 0 0 -180.000"/><feComponentTransfer><feFuncR type="table" tableValues="0.255 0.282 0.279 0.259 0.230 0.199 0.173 0.149 0.128 0.121 0.158 0.246 0.369 0.516 0.678 0.846 0.993"/><feFuncG type="table" tableValues="0.070 0.095 0.175 0.252 0.322 0.388 0.449 0.508 0.567 0.626 0.684 0.739 0.789 0.831 0.864 0.887 0.906"/><feFuncB type="table" tableValues="0.310 0.417 0.483 0.525 0.546 0.555 0.558 0.557 0.551 0.533 0.502 0.452 0.383 0.294 0.190 0.100 0.144"/></feComponentTransfer></filter>
<rect x="-1" y="-1" width="64" height="69" filter="url(#f4)" clip-path="url(#l4)"/>
<filter id="f5" x="0" y="0" width="1" height="1" color-interpolation-filters="sRGB"><feTurbulence type="fractalNoise" baseFrequency="0.42" numOctaves="1" seed="51"/><feColorMatrix type="matrix" values="10.000 0 0 0 -7.600  10.000 0 0 0 -7.600  10.000 0 0 0 -7.600  250.000 0 0 0 -190.000"/><feComponentTransfer><feFuncR type="table" tableValues="0.255 0.282 0.279 0.259 0.230 0.199 0.173 0.149 0.128 0.121 0.158 0.246 0.369 0.516 0.678 0.846 0.993"/><feFuncG type="table" tableValues="0.070 0.095 0.175 0.252 0.322 0.388 0.449 0.508 0.567 0.626 0.684 0.739 0.789 0.831 0.864 0.887 0.906"/><feFuncB type="table" tableValues="0.310 0.417 0.483 0.525 0.546 0.555 0.558 0.557 0.551 0.533 0.502 0.452 0.383 0.294 0.190 0.100 0.144"/></feComponentTransfer></filter>
<rect x="-1" y="-1" width="64" height="69" filter="url(#f5)" clip-path="url(#pout)"/>
</g>
<path d="M6.50,21.00 L12.00,18.70 L18.30,16.50 L24.00,13.50 L30.10,10.60 L36.00,8.00 L41.80,5.90 L45.40,5.30 L48.90,9.40 L52.40,15.30 L54.80,22.40 L56.60,30.70 L57.20,40.10 L57.70,48.30 L58.30,56.60" fill="none" stroke="#fff" stroke-width="1.1" stroke-dasharray="2.6 2"/>
<path d="M7.70,31.80 L13.00,28.90 L18.30,26.00 L23.00,23.30 L27.70,20.60 L31.80,19.00 L35.90,17.70 L40.70,18.90 L44.20,22.40 L46.50,28.30 L48.30,36.50 L48.30,44.80 L46.50,51.90 L43.00,57.80 L40.00,62.00" fill="none" stroke="#fff" stroke-width="1.1" stroke-dasharray="2.6 2"/>
</g>
<g transform="translate(162.00,414.70)">
<g clip-path="url(#tis)">
<filter id="f6" x="0" y="0" width="1" height="1" color-interpolation-filters="sRGB"><feTurbulence type="fractalNoise" baseFrequency="0.55" numOctaves="2" seed="4"/><feColorMatrix type="matrix" values="2.600 0 0 0 -1.300  2.600 0 0 0 -1.300  2.600 0 0 0 -1.300  0 0 0 0 1"/><feComponentTransfer><feFuncR type="table" tableValues="0.255 0.282 0.279 0.259 0.230 0.199 0.173 0.149 0.128 0.121 0.158 0.246 0.369 0.516 0.678 0.846 0.993"/><feFuncG type="table" tableValues="0.070 0.095 0.175 0.252 0.322 0.388 0.449 0.508 0.567 0.626 0.684 0.739 0.789 0.831 0.864 0.887 0.906"/><feFuncB type="table" tableValues="0.310 0.417 0.483 0.525 0.546 0.555 0.558 0.557 0.551 0.533 0.502 0.452 0.383 0.294 0.190 0.100 0.144"/></feComponentTransfer></filter>
<rect x="-1" y="-1" width="64" height="69" filter="url(#f6)"/>
<filter id="f7" x="0" y="0" width="1" height="1" color-interpolation-filters="sRGB"><feTurbulence type="fractalNoise" baseFrequency="0.55" numOctaves="2" seed="5"/><feColorMatrix type="matrix" values="2.600 0 0 0 -1.220  2.600 0 0 0 -1.220  2.600 0 0 0 -1.220  0 0 0 0 1"/><feComponentTransfer><feFuncR type="table" tableValues="0.255 0.282 0.279 0.259 0.230 0.199 0.173 0.149 0.128 0.121 0.158 0.246 0.369 0.516 0.678 0.846 0.993"/><feFuncG type="table" tableValues="0.070 0.095 0.175 0.252 0.322 0.388 0.449 0.508 0.567 0.626 0.684 0.739 0.789 0.831 0.864 0.887 0.906"/><feFuncB type="table" tableValues="0.310 0.417 0.483 0.525 0.546 0.555 0.558 0.557 0.551 0.533 0.502 0.452 0.383 0.294 0.190 0.100 0.144"/></feComponentTransfer></filter>
<rect x="-1" y="-1" width="64" height="69" filter="url(#f7)" clip-path="url(#pout)"/>
<filter id="f8" x="0" y="0" width="1" height="1" color-interpolation-filters="sRGB"><feTurbulence type="fractalNoise" baseFrequency="0.55" numOctaves="2" seed="45"/><feColorMatrix type="matrix" values="2.600 0 0 0 -1.150  2.600 0 0 0 -1.150  2.600 0 0 0 -1.150  0 0 0 0 1"/><feComponentTransfer><feFuncR type="table" tableValues="0.255 0.282 0.279 0.259 0.230 0.199 0.173 0.149 0.128 0.121 0.158 0.246 0.369 0.516 0.678 0.846 0.993"/><feFuncG type="table" tableValues="0.070 0.095 0.175 0.252 0.322 0.388 0.449 0.508 0.567 0.626 0.684 0.739 0.789 0.831 0.864 0.887 0.906"/><feFuncB type="table" tableValues="0.310 0.417 0.483 0.525 0.546 0.555 0.558 0.557 0.551 0.533 0.502 0.452 0.383 0.294 0.190 0.100 0.144"/></feComponentTransfer></filter>
<rect x="-1" y="-1" width="64" height="69" filter="url(#f8)" clip-path="url(#l4)"/>
<filter id="f9" x="0" y="0" width="1" height="1" color-interpolation-filters="sRGB"><feTurbulence type="fractalNoise" baseFrequency="0.55" numOctaves="2" seed="6"/><feColorMatrix type="matrix" values="3.500 0 0 0 -2.250  3.500 0 0 0 -2.250  3.500 0 0 0 -2.250  0 0 0 0 1"/><feComponentTransfer><feFuncR type="table" tableValues="0.255 0.282 0.279 0.259 0.230 0.199 0.173 0.149 0.128 0.121 0.158 0.246 0.369 0.516 0.678 0.846 0.993"/><feFuncG type="table" tableValues="0.070 0.095 0.175 0.252 0.322 0.388 0.449 0.508 0.567 0.626 0.684 0.739 0.789 0.831 0.864 0.887 0.906"/><feFuncB type="table" tableValues="0.310 0.417 0.483 0.525 0.546 0.555 0.558 0.557 0.551 0.533 0.502 0.452 0.383 0.294 0.190 0.100 0.144"/></feComponentTransfer></filter>
<rect x="-1" y="-1" width="64" height="69" filter="url(#f9)" clip-path="url(#pin)"/>
<filter id="f10" x="0" y="0" width="1" height="1" color-interpolation-filters="sRGB"><feTurbulence type="fractalNoise" baseFrequency="0.42" numOctaves="1" seed="52"/><feColorMatrix type="matrix" values="10.000 0 0 0 -7.200  10.000 0 0 0 -7.200  10.000 0 0 0 -7.200  250.000 0 0 0 -180.000"/><feComponentTransfer><feFuncR type="table" tableValues="0.255 0.282 0.279 0.259 0.230 0.199 0.173 0.149 0.128 0.121 0.158 0.246 0.369 0.516 0.678 0.846 0.993"/><feFuncG type="table" tableValues="0.070 0.095 0.175 0.252 0.322 0.388 0.449 0.508 0.567 0.626 0.684 0.739 0.789 0.831 0.864 0.887 0.906"/><feFuncB type="table" tableValues="0.310 0.417 0.483 0.525 0.546 0.555 0.558 0.557 0.551 0.533 0.502 0.452 0.383 0.294 0.190 0.100 0.144"/></feComponentTransfer></filter>
<rect x="-1" y="-1" width="64" height="69" filter="url(#f10)"/>
</g>
<path d="M6.50,21.00 L12.00,18.70 L18.30,16.50 L24.00,13.50 L30.10,10.60 L36.00,8.00 L41.80,5.90 L45.40,5.30 L48.90,9.40 L52.40,15.30 L54.80,22.40 L56.60,30.70 L57.20,40.10 L57.70,48.30 L58.30,56.60" fill="none" stroke="#fff" stroke-width="1.1" stroke-dasharray="2.6 2"/>
<path d="M7.70,31.80 L13.00,28.90 L18.30,26.00 L23.00,23.30 L27.70,20.60 L31.80,19.00 L35.90,17.70 L40.70,18.90 L44.20,22.40 L46.50,28.30 L48.30,36.50 L48.30,44.80 L46.50,51.90 L43.00,57.80 L40.00,62.00" fill="none" stroke="#fff" stroke-width="1.1" stroke-dasharray="2.6 2"/>
</g>
<g transform="translate(233.60,414.70)">
<g clip-path="url(#tis)">
<filter id="f11" x="0" y="0" width="1" height="1" color-interpolation-filters="sRGB"><feTurbulence type="fractalNoise" baseFrequency="0.42" numOctaves="2" seed="7"/><feColorMatrix type="matrix" values="11.000 0 0 0 -8.000  11.000 0 0 0 -8.000  11.000 0 0 0 -8.000  0 0 0 0 1"/><feComponentTransfer><feFuncR type="table" tableValues="0.255 0.282 0.279 0.259 0.230 0.199 0.173 0.149 0.128 0.121 0.158 0.246 0.369 0.516 0.678 0.846 0.993"/><feFuncG type="table" tableValues="0.070 0.095 0.175 0.252 0.322 0.388 0.449 0.508 0.567 0.626 0.684 0.739 0.789 0.831 0.864 0.887 0.906"/><feFuncB type="table" tableValues="0.310 0.417 0.483 0.525 0.546 0.555 0.558 0.557 0.551 0.533 0.502 0.452 0.383 0.294 0.190 0.100 0.144"/></feComponentTransfer></filter>
<rect x="-1" y="-1" width="64" height="69" filter="url(#f11)"/>
<filter id="f12" x="0" y="0" width="1" height="1" color-interpolation-filters="sRGB"><feTurbulence type="fractalNoise" baseFrequency="0.42" numOctaves="2" seed="8"/><feColorMatrix type="matrix" values="11.000 0 0 0 -7.700  11.000 0 0 0 -7.700  11.000 0 0 0 -7.700  0 0 0 0 1"/><feComponentTransfer><feFuncR type="table" tableValues="0.255 0.282 0.279 0.259 0.230 0.199 0.173 0.149 0.128 0.121 0.158 0.246 0.369 0.516 0.678 0.846 0.993"/><feFuncG type="table" tableValues="0.070 0.095 0.175 0.252 0.322 0.388 0.449 0.508 0.567 0.626 0.684 0.739 0.789 0.831 0.864 0.887 0.906"/><feFuncB type="table" tableValues="0.310 0.417 0.483 0.525 0.546 0.555 0.558 0.557 0.551 0.533 0.502 0.452 0.383 0.294 0.190 0.100 0.144"/></feComponentTransfer></filter>
<rect x="-1" y="-1" width="64" height="69" filter="url(#f12)" clip-path="url(#pout)"/>
<filter id="f13" x="0" y="0" width="1" height="1" color-interpolation-filters="sRGB"><feTurbulence type="fractalNoise" baseFrequency="0.42" numOctaves="2" seed="9"/><feColorMatrix type="matrix" values="11.000 0 0 0 -7.900  11.000 0 0 0 -7.900  11.000 0 0 0 -7.900  0 0 0 0 1"/><feComponentTransfer><feFuncR type="table" tableValues="0.255 0.282 0.279 0.259 0.230 0.199 0.173 0.149 0.128 0.121 0.158 0.246 0.369 0.516 0.678 0.846 0.993"/><feFuncG type="table" tableValues="0.070 0.095 0.175 0.252 0.322 0.388 0.449 0.508 0.567 0.626 0.684 0.739 0.789 0.831 0.864 0.887 0.906"/><feFuncB type="table" tableValues="0.310 0.417 0.483 0.525 0.546 0.555 0.558 0.557 0.551 0.533 0.502 0.452 0.383 0.294 0.190 0.100 0.144"/></feComponentTransfer></filter>
<rect x="-1" y="-1" width="64" height="69" filter="url(#f13)" clip-path="url(#pin)"/>
</g>
<path d="M6.50,21.00 L12.00,18.70 L18.30,16.50 L24.00,13.50 L30.10,10.60 L36.00,8.00 L41.80,5.90 L45.40,5.30 L48.90,9.40 L52.40,15.30 L54.80,22.40 L56.60,30.70 L57.20,40.10 L57.70,48.30 L58.30,56.60" fill="none" stroke="#fff" stroke-width="1.1" stroke-dasharray="2.6 2"/>
<path d="M7.70,31.80 L13.00,28.90 L18.30,26.00 L23.00,23.30 L27.70,20.60 L31.80,19.00 L35.90,17.70 L40.70,18.90 L44.20,22.40 L46.50,28.30 L48.30,36.50 L48.30,44.80 L46.50,51.90 L43.00,57.80 L40.00,62.00" fill="none" stroke="#fff" stroke-width="1.1" stroke-dasharray="2.6 2"/>
</g>
<g transform="translate(305.20,414.70)">
<g clip-path="url(#tis)">
<filter id="f14" x="0" y="0" width="1" height="1" color-interpolation-filters="sRGB"><feTurbulence type="fractalNoise" baseFrequency="0.42" numOctaves="2" seed="10"/><feColorMatrix type="matrix" values="11.000 0 0 0 -8.200  11.000 0 0 0 -8.200  11.000 0 0 0 -8.200  0 0 0 0 1"/><feComponentTransfer><feFuncR type="table" tableValues="0.255 0.282 0.279 0.259 0.230 0.199 0.173 0.149 0.128 0.121 0.158 0.246 0.369 0.516 0.678 0.846 0.993"/><feFuncG type="table" tableValues="0.070 0.095 0.175 0.252 0.322 0.388 0.449 0.508 0.567 0.626 0.684 0.739 0.789 0.831 0.864 0.887 0.906"/><feFuncB type="table" tableValues="0.310 0.417 0.483 0.525 0.546 0.555 0.558 0.557 0.551 0.533 0.502 0.452 0.383 0.294 0.190 0.100 0.144"/></feComponentTransfer></filter>
<rect x="-1" y="-1" width="64" height="69" filter="url(#f14)"/>
<filter id="f15" x="0" y="0" width="1" height="1" color-interpolation-filters="sRGB"><feTurbulence type="fractalNoise" baseFrequency="0.42" numOctaves="2" seed="11"/><feColorMatrix type="matrix" values="10.000 0 0 0 -6.800  10.000 0 0 0 -6.800  10.000 0 0 0 -6.800  0 0 0 0 1"/><feComponentTransfer><feFuncR type="table" tableValues="0.255 0.282 0.279 0.259 0.230 0.199 0.173 0.149 0.128 0.121 0.158 0.246 0.369 0.516 0.678 0.846 0.993"/><feFuncG type="table" tableValues="0.070 0.095 0.175 0.252 0.322 0.388 0.449 0.508 0.567 0.626 0.684 0.739 0.789 0.831 0.864 0.887 0.906"/><feFuncB type="table" tableValues="0.310 0.417 0.483 0.525 0.546 0.555 0.558 0.557 0.551 0.533 0.502 0.452 0.383 0.294 0.190 0.100 0.144"/></feComponentTransfer></filter>
<rect x="-1" y="-1" width="64" height="69" filter="url(#f15)" clip-path="url(#l4)"/>
<filter id="f16" x="0" y="0" width="1" height="1" color-interpolation-filters="sRGB"><feTurbulence type="fractalNoise" baseFrequency="0.42" numOctaves="2" seed="12"/><feColorMatrix type="matrix" values="11.000 0 0 0 -8.100  11.000 0 0 0 -8.100  11.000 0 0 0 -8.100  0 0 0 0 1"/><feComponentTransfer><feFuncR type="table" tableValues="0.255 0.282 0.279 0.259 0.230 0.199 0.173 0.149 0.128 0.121 0.158 0.246 0.369 0.516 0.678 0.846 0.993"/><feFuncG type="table" tableValues="0.070 0.095 0.175 0.252 0.322 0.388 0.449 0.508 0.567 0.626 0.684 0.739 0.789 0.831 0.864 0.887 0.906"/><feFuncB type="table" tableValues="0.310 0.417 0.483 0.525 0.546 0.555 0.558 0.557 0.551 0.533 0.502 0.452 0.383 0.294 0.190 0.100 0.144"/></feComponentTransfer></filter>
<rect x="-1" y="-1" width="64" height="69" filter="url(#f16)" clip-path="url(#pin)"/>
</g>
<path d="M6.50,21.00 L12.00,18.70 L18.30,16.50 L24.00,13.50 L30.10,10.60 L36.00,8.00 L41.80,5.90 L45.40,5.30 L48.90,9.40 L52.40,15.30 L54.80,22.40 L56.60,30.70 L57.20,40.10 L57.70,48.30 L58.30,56.60" fill="none" stroke="#fff" stroke-width="1.1" stroke-dasharray="2.6 2"/>
<path d="M7.70,31.80 L13.00,28.90 L18.30,26.00 L23.00,23.30 L27.70,20.60 L31.80,19.00 L35.90,17.70 L40.70,18.90 L44.20,22.40 L46.50,28.30 L48.30,36.50 L48.30,44.80 L46.50,51.90 L43.00,57.80 L40.00,62.00" fill="none" stroke="#fff" stroke-width="1.1" stroke-dasharray="2.6 2"/>
</g>
<g transform="translate(376.80,414.70)">
<g clip-path="url(#tis)">
<filter id="f17" x="0" y="0" width="1" height="1" color-interpolation-filters="sRGB"><feTurbulence type="fractalNoise" baseFrequency="0.55" numOctaves="2" seed="13"/><feColorMatrix type="matrix" values="2.200 0 0 0 -1.040  2.200 0 0 0 -1.040  2.200 0 0 0 -1.040  0 0 0 0 1"/><feComponentTransfer><feFuncR type="table" tableValues="0.255 0.282 0.279 0.259 0.230 0.199 0.173 0.149 0.128 0.121 0.158 0.246 0.369 0.516 0.678 0.846 0.993"/><feFuncG type="table" tableValues="0.070 0.095 0.175 0.252 0.322 0.388 0.449 0.508 0.567 0.626 0.684 0.739 0.789 0.831 0.864 0.887 0.906"/><feFuncB type="table" tableValues="0.310 0.417 0.483 0.525 0.546 0.555 0.558 0.557 0.551 0.533 0.502 0.452 0.383 0.294 0.190 0.100 0.144"/></feComponentTransfer></filter>
<rect x="-1" y="-1" width="64" height="69" filter="url(#f17)"/>
<filter id="f18" x="0" y="0" width="1" height="1" color-interpolation-filters="sRGB"><feTurbulence type="fractalNoise" baseFrequency="0.55" numOctaves="2" seed="14"/><feColorMatrix type="matrix" values="2.200 0 0 0 -0.960  2.200 0 0 0 -0.960  2.200 0 0 0 -0.960  0 0 0 0 1"/><feComponentTransfer><feFuncR type="table" tableValues="0.255 0.282 0.279 0.259 0.230 0.199 0.173 0.149 0.128 0.121 0.158 0.246 0.369 0.516 0.678 0.846 0.993"/><feFuncG type="table" tableValues="0.070 0.095 0.175 0.252 0.322 0.388 0.449 0.508 0.567 0.626 0.684 0.739 0.789 0.831 0.864 0.887 0.906"/><feFuncB type="table" tableValues="0.310 0.417 0.483 0.525 0.546 0.555 0.558 0.557 0.551 0.533 0.502 0.452 0.383 0.294 0.190 0.100 0.144"/></feComponentTransfer></filter>
<rect x="-1" y="-1" width="64" height="69" filter="url(#f18)" clip-path="url(#pout)"/>
<filter id="f19" x="0" y="0" width="1" height="1" color-interpolation-filters="sRGB"><feTurbulence type="fractalNoise" baseFrequency="0.55" numOctaves="2" seed="15"/><feColorMatrix type="matrix" values="2.400 0 0 0 -1.200  2.400 0 0 0 -1.200  2.400 0 0 0 -1.200  0 0 0 0 1"/><feComponentTransfer><feFuncR type="table" tableValues="0.255 0.282 0.279 0.259 0.230 0.199 0.173 0.149 0.128 0.121 0.158 0.246 0.369 0.516 0.678 0.846 0.993"/><feFuncG type="table" tableValues="0.070 0.095 0.175 0.252 0.322 0.388 0.449 0.508 0.567 0.626 0.684 0.739 0.789 0.831 0.864 0.887 0.906"/><feFuncB type="table" tableValues="0.310 0.417 0.483 0.525 0.546 0.555 0.558 0.557 0.551 0.533 0.502 0.452 0.383 0.294 0.190 0.100 0.144"/></feComponentTransfer></filter>
<rect x="-1" y="-1" width="64" height="69" filter="url(#f19)" clip-path="url(#pin)"/>
<filter id="f20" x="0" y="0" width="1" height="1" color-interpolation-filters="sRGB"><feTurbulence type="fractalNoise" baseFrequency="0.55" numOctaves="2" seed="46"/><feColorMatrix type="matrix" values="3.000 0 0 0 -1.850  3.000 0 0 0 -1.850  3.000 0 0 0 -1.850  0 0 0 0 1"/><feComponentTransfer><feFuncR type="table" tableValues="0.255 0.282 0.279 0.259 0.230 0.199 0.173 0.149 0.128 0.121 0.158 0.246 0.369 0.516 0.678 0.846 0.993"/><feFuncG type="table" tableValues="0.070 0.095 0.175 0.252 0.322 0.388 0.449 0.508 0.567 0.626 0.684 0.739 0.789 0.831 0.864 0.887 0.906"/><feFuncB type="table" tableValues="0.310 0.417 0.483 0.525 0.546 0.555 0.558 0.557 0.551 0.533 0.502 0.452 0.383 0.294 0.190 0.100 0.144"/></feComponentTransfer></filter>
<rect x="-1" y="-1" width="64" height="69" filter="url(#f20)" clip-path="url(#dsll)"/>
<filter id="f21" x="0" y="0" width="1" height="1" color-interpolation-filters="sRGB"><feTurbulence type="fractalNoise" baseFrequency="0.42" numOctaves="1" seed="53"/><feColorMatrix type="matrix" values="10.000 0 0 0 -7.600  10.000 0 0 0 -7.600  10.000 0 0 0 -7.600  250.000 0 0 0 -190.000"/><feComponentTransfer><feFuncR type="table" tableValues="0.255 0.282 0.279 0.259 0.230 0.199 0.173 0.149 0.128 0.121 0.158 0.246 0.369 0.516 0.678 0.846 0.993"/><feFuncG type="table" tableValues="0.070 0.095 0.175 0.252 0.322 0.388 0.449 0.508 0.567 0.626 0.684 0.739 0.789 0.831 0.864 0.887 0.906"/><feFuncB type="table" tableValues="0.310 0.417 0.483 0.525 0.546 0.555 0.558 0.557 0.551 0.533 0.502 0.452 0.383 0.294 0.190 0.100 0.144"/></feComponentTransfer></filter>
<rect x="-1" y="-1" width="64" height="69" filter="url(#f21)"/>
</g>
<path d="M6.50,21.00 L12.00,18.70 L18.30,16.50 L24.00,13.50 L30.10,10.60 L36.00,8.00 L41.80,5.90 L45.40,5.30 L48.90,9.40 L52.40,15.30 L54.80,22.40 L56.60,30.70 L57.20,40.10 L57.70,48.30 L58.30,56.60" fill="none" stroke="#fff" stroke-width="1.1" stroke-dasharray="2.6 2"/>
<path d="M7.70,31.80 L13.00,28.90 L18.30,26.00 L23.00,23.30 L27.70,20.60 L31.80,19.00 L35.90,17.70 L40.70,18.90 L44.20,22.40 L46.50,28.30 L48.30,36.50 L48.30,44.80 L46.50,51.90 L43.00,57.80 L40.00,62.00" fill="none" stroke="#fff" stroke-width="1.1" stroke-dasharray="2.6 2"/>
</g>
<g transform="translate(19.20,513.20)">
<g clip-path="url(#tis)">
<filter id="f22" x="0" y="0" width="1" height="1" color-interpolation-filters="sRGB"><feTurbulence type="fractalNoise" baseFrequency="0.55" numOctaves="2" seed="16"/><feColorMatrix type="matrix" values="3.000 0 0 0 -1.650  3.000 0 0 0 -1.650  3.000 0 0 0 -1.650  0 0 0 0 1"/><feComponentTransfer><feFuncR type="table" tableValues="0.255 0.282 0.279 0.259 0.230 0.199 0.173 0.149 0.128 0.121 0.158 0.246 0.369 0.516 0.678 0.846 0.993"/><feFuncG type="table" tableValues="0.070 0.095 0.175 0.252 0.322 0.388 0.449 0.508 0.567 0.626 0.684 0.739 0.789 0.831 0.864 0.887 0.906"/><feFuncB type="table" tableValues="0.310 0.417 0.483 0.525 0.546 0.555 0.558 0.557 0.551 0.533 0.502 0.452 0.383 0.294 0.190 0.100 0.144"/></feComponentTransfer></filter>
<rect x="-1" y="-1" width="64" height="69" filter="url(#f22)"/>
<filter id="f23" x="0" y="0" width="1" height="1" color-interpolation-filters="sRGB"><feTurbulence type="fractalNoise" baseFrequency="0.55" numOctaves="2" seed="17"/><feColorMatrix type="matrix" values="3.000 0 0 0 -1.550  3.000 0 0 0 -1.550  3.000 0 0 0 -1.550  0 0 0 0 1"/><feComponentTransfer><feFuncR type="table" tableValues="0.255 0.282 0.279 0.259 0.230 0.199 0.173 0.149 0.128 0.121 0.158 0.246 0.369 0.516 0.678 0.846 0.993"/><feFuncG type="table" tableValues="0.070 0.095 0.175 0.252 0.322 0.388 0.449 0.508 0.567 0.626 0.684 0.739 0.789 0.831 0.864 0.887 0.906"/><feFuncB type="table" tableValues="0.310 0.417 0.483 0.525 0.546 0.555 0.558 0.557 0.551 0.533 0.502 0.452 0.383 0.294 0.190 0.100 0.144"/></feComponentTransfer></filter>
<rect x="-1" y="-1" width="64" height="69" filter="url(#f23)" clip-path="url(#pout)"/>
<filter id="f24" x="0" y="0" width="1" height="1" color-interpolation-filters="sRGB"><feTurbulence type="fractalNoise" baseFrequency="0.55" numOctaves="2" seed="18"/><feColorMatrix type="matrix" values="3.400 0 0 0 -2.050  3.400 0 0 0 -2.050  3.400 0 0 0 -2.050  0 0 0 0 1"/><feComponentTransfer><feFuncR type="table" tableValues="0.255 0.282 0.279 0.259 0.230 0.199 0.173 0.149 0.128 0.121 0.158 0.246 0.369 0.516 0.678 0.846 0.993"/><feFuncG type="table" tableValues="0.070 0.095 0.175 0.252 0.322 0.388 0.449 0.508 0.567 0.626 0.684 0.739 0.789 0.831 0.864 0.887 0.906"/><feFuncB type="table" tableValues="0.310 0.417 0.483 0.525 0.546 0.555 0.558 0.557 0.551 0.533 0.502 0.452 0.383 0.294 0.190 0.100 0.144"/></feComponentTransfer></filter>
<rect x="-1" y="-1" width="64" height="69" filter="url(#f24)" clip-path="url(#pin)"/>
<filter id="f25" x="0" y="0" width="1" height="1" color-interpolation-filters="sRGB"><feTurbulence type="fractalNoise" baseFrequency="0.42" numOctaves="1" seed="54"/><feColorMatrix type="matrix" values="10.000 0 0 0 -7.000  10.000 0 0 0 -7.000  10.000 0 0 0 -7.000  250.000 0 0 0 -175.000"/><feComponentTransfer><feFuncR type="table" tableValues="0.255 0.282 0.279 0.259 0.230 0.199 0.173 0.149 0.128 0.121 0.158 0.246 0.369 0.516 0.678 0.846 0.993"/><feFuncG type="table" tableValues="0.070 0.095 0.175 0.252 0.322 0.388 0.449 0.508 0.567 0.626 0.684 0.739 0.789 0.831 0.864 0.887 0.906"/><feFuncB type="table" tableValues="0.310 0.417 0.483 0.525 0.546 0.555 0.558 0.557 0.551 0.533 0.502 0.452 0.383 0.294 0.190 0.100 0.144"/></feComponentTransfer></filter>
<rect x="-1" y="-1" width="64" height="69" filter="url(#f25)"/>
</g>
<path d="M6.50,21.00 L12.00,18.70 L18.30,16.50 L24.00,13.50 L30.10,10.60 L36.00,8.00 L41.80,5.90 L45.40,5.30 L48.90,9.40 L52.40,15.30 L54.80,22.40 L56.60,30.70 L57.20,40.10 L57.70,48.30 L58.30,56.60" fill="none" stroke="#fff" stroke-width="1.1" stroke-dasharray="2.6 2"/>
<path d="M7.70,31.80 L13.00,28.90 L18.30,26.00 L23.00,23.30 L27.70,20.60 L31.80,19.00 L35.90,17.70 L40.70,18.90 L44.20,22.40 L46.50,28.30 L48.30,36.50 L48.30,44.80 L46.50,51.90 L43.00,57.80 L40.00,62.00" fill="none" stroke="#fff" stroke-width="1.1" stroke-dasharray="2.6 2"/>
</g>
<g transform="translate(90.80,513.20)">
<g clip-path="url(#tis)">
<filter id="f26" x="0" y="0" width="1" height="1" color-interpolation-filters="sRGB"><feTurbulence type="fractalNoise" baseFrequency="0.55" numOctaves="2" seed="19"/><feColorMatrix type="matrix" values="1.050 0 0 0 0.135  1.050 0 0 0 0.135  1.050 0 0 0 0.135  0 0 0 0 1"/><feComponentTransfer><feFuncR type="table" tableValues="0.255 0.282 0.279 0.259 0.230 0.199 0.173 0.149 0.128 0.121 0.158 0.246 0.369 0.516 0.678 0.846 0.993"/><feFuncG type="table" tableValues="0.070 0.095 0.175 0.252 0.322 0.388 0.449 0.508 0.567 0.626 0.684 0.739 0.789 0.831 0.864 0.887 0.906"/><feFuncB type="table" tableValues="0.310 0.417 0.483 0.525 0.546 0.555 0.558 0.557 0.551 0.533 0.502 0.452 0.383 0.294 0.190 0.100 0.144"/></feComponentTransfer></filter>
<rect x="-1" y="-1" width="64" height="69" filter="url(#f26)"/>
<filter id="f27" x="0" y="0" width="1" height="1" color-interpolation-filters="sRGB"><feTurbulence type="fractalNoise" baseFrequency="0.55" numOctaves="2" seed="20"/><feColorMatrix type="matrix" values="1.050 0 0 0 0.155  1.050 0 0 0 0.155  1.050 0 0 0 0.155  0 0 0 0 1"/><feComponentTransfer><feFuncR type="table" tableValues="0.255 0.282 0.279 0.259 0.230 0.199 0.173 0.149 0.128 0.121 0.158 0.246 0.369 0.516 0.678 0.846 0.993"/><feFuncG type="table" tableValues="0.070 0.095 0.175 0.252 0.322 0.388 0.449 0.508 0.567 0.626 0.684 0.739 0.789 0.831 0.864 0.887 0.906"/><feFuncB type="table" tableValues="0.310 0.417 0.483 0.525 0.546 0.555 0.558 0.557 0.551 0.533 0.502 0.452 0.383 0.294 0.190 0.100 0.144"/></feComponentTransfer></filter>
<rect x="-1" y="-1" width="64" height="69" filter="url(#f27)" clip-path="url(#pout)"/>
<filter id="f28" x="0" y="0" width="1" height="1" color-interpolation-filters="sRGB"><feTurbulence type="fractalNoise" baseFrequency="0.55" numOctaves="2" seed="21"/><feColorMatrix type="matrix" values="1.100 0 0 0 0.030  1.100 0 0 0 0.030  1.100 0 0 0 0.030  0 0 0 0 1"/><feComponentTransfer><feFuncR type="table" tableValues="0.255 0.282 0.279 0.259 0.230 0.199 0.173 0.149 0.128 0.121 0.158 0.246 0.369 0.516 0.678 0.846 0.993"/><feFuncG type="table" tableValues="0.070 0.095 0.175 0.252 0.322 0.388 0.449 0.508 0.567 0.626 0.684 0.739 0.789 0.831 0.864 0.887 0.906"/><feFuncB type="table" tableValues="0.310 0.417 0.483 0.525 0.546 0.555 0.558 0.557 0.551 0.533 0.502 0.452 0.383 0.294 0.190 0.100 0.144"/></feComponentTransfer></filter>
<rect x="-1" y="-1" width="64" height="69" filter="url(#f28)" clip-path="url(#pin)"/>
<filter id="f29" x="0" y="0" width="1" height="1" color-interpolation-filters="sRGB"><feTurbulence type="fractalNoise" baseFrequency="0.55" numOctaves="2" seed="40"/><feColorMatrix type="matrix" values="0.600 0 0 0 -0.270  0.600 0 0 0 -0.270  0.600 0 0 0 -0.270  0 0 0 0 1"/><feComponentTransfer><feFuncR type="table" tableValues="0.255 0.282 0.279 0.259 0.230 0.199 0.173 0.149 0.128 0.121 0.158 0.246 0.369 0.516 0.678 0.846 0.993"/><feFuncG type="table" tableValues="0.070 0.095 0.175 0.252 0.322 0.388 0.449 0.508 0.567 0.626 0.684 0.739 0.789 0.831 0.864 0.887 0.906"/><feFuncB type="table" tableValues="0.310 0.417 0.483 0.525 0.546 0.555 0.558 0.557 0.551 0.533 0.502 0.452 0.383 0.294 0.190 0.100 0.144"/></feComponentTransfer></filter>
<rect x="-1" y="28" width="42" height="42" filter="url(#f29)" mask="url(#c2lm)"/>
<filter id="f30" x="0" y="0" width="1" height="1" color-interpolation-filters="sRGB"><feTurbulence type="fractalNoise" baseFrequency="0.55" numOctaves="2" seed="41"/><feColorMatrix type="matrix" values="1.000 0 0 0 -0.080  1.000 0 0 0 -0.080  1.000 0 0 0 -0.080  0 0 0 0 1"/><feComponentTransfer><feFuncR type="table" tableValues="0.255 0.282 0.279 0.259 0.230 0.199 0.173 0.149 0.128 0.121 0.158 0.246 0.369 0.516 0.678 0.846 0.993"/><feFuncG type="table" tableValues="0.070 0.095 0.175 0.252 0.322 0.388 0.449 0.508 0.567 0.626 0.684 0.739 0.789 0.831 0.864 0.887 0.906"/><feFuncB type="table" tableValues="0.310 0.417 0.483 0.525 0.546 0.555 0.558 0.557 0.551 0.533 0.502 0.452 0.383 0.294 0.190 0.100 0.144"/></feComponentTransfer></filter>
<rect x="-1" y="-1" width="14" height="28" filter="url(#f30)" clip-path="url(#c2ls)"/>
<filter id="f31" x="0" y="0" width="1" height="1" color-interpolation-filters="sRGB"><feTurbulence type="fractalNoise" baseFrequency="0.55" numOctaves="2" seed="43"/><feColorMatrix type="matrix" values="0.800 0 0 0 -0.360  0.800 0 0 0 -0.360  0.800 0 0 0 -0.360  0 0 0 0 1"/><feComponentTransfer><feFuncR type="table" tableValues="0.255 0.282 0.279 0.259 0.230 0.199 0.173 0.149 0.128 0.121 0.158 0.246 0.369 0.516 0.678 0.846 0.993"/><feFuncG type="table" tableValues="0.070 0.095 0.175 0.252 0.322 0.388 0.449 0.508 0.567 0.626 0.684 0.739 0.789 0.831 0.864 0.887 0.906"/><feFuncB type="table" tableValues="0.310 0.417 0.483 0.525 0.546 0.555 0.558 0.557 0.551 0.533 0.502 0.452 0.383 0.294 0.190 0.100 0.144"/></feComponentTransfer></filter>
<rect x="5" y="-1" width="58" height="26" filter="url(#f31)" clip-path="url(#c2lr2)"/>
</g>
<path d="M6.50,21.00 L12.00,18.70 L18.30,16.50 L24.00,13.50 L30.10,10.60 L36.00,8.00 L41.80,5.90 L45.40,5.30 L48.90,9.40 L52.40,15.30 L54.80,22.40 L56.60,30.70 L57.20,40.10 L57.70,48.30 L58.30,56.60" fill="none" stroke="#fff" stroke-width="1.1" stroke-dasharray="2.6 2"/>
<path d="M7.70,31.80 L13.00,28.90 L18.30,26.00 L23.00,23.30 L27.70,20.60 L31.80,19.00 L35.90,17.70 L40.70,18.90 L44.20,22.40 L46.50,28.30 L48.30,36.50 L48.30,44.80 L46.50,51.90 L43.00,57.80 L40.00,62.00" fill="none" stroke="#fff" stroke-width="1.1" stroke-dasharray="2.6 2"/>
</g>
<g transform="translate(162.40,513.20)">
<g clip-path="url(#tis)">
<filter id="f32" x="0" y="0" width="1" height="1" color-interpolation-filters="sRGB"><feTurbulence type="fractalNoise" baseFrequency="0.55" numOctaves="2" seed="22"/><feColorMatrix type="matrix" values="3.600 0 0 0 -2.300  3.600 0 0 0 -2.300  3.600 0 0 0 -2.300  0 0 0 0 1"/><feComponentTransfer><feFuncR type="table" tableValues="0.255 0.282 0.279 0.259 0.230 0.199 0.173 0.149 0.128 0.121 0.158 0.246 0.369 0.516 0.678 0.846 0.993"/><feFuncG type="table" tableValues="0.070 0.095 0.175 0.252 0.322 0.388 0.449 0.508 0.567 0.626 0.684 0.739 0.789 0.831 0.864 0.887 0.906"/><feFuncB type="table" tableValues="0.310 0.417 0.483 0.525 0.546 0.555 0.558 0.557 0.551 0.533 0.502 0.452 0.383 0.294 0.190 0.100 0.144"/></feComponentTransfer></filter>
<rect x="-1" y="-1" width="64" height="69" filter="url(#f32)"/>
<filter id="f33" x="0" y="0" width="1" height="1" color-interpolation-filters="sRGB"><feTurbulence type="fractalNoise" baseFrequency="0.55" numOctaves="2" seed="23"/><feColorMatrix type="matrix" values="3.600 0 0 0 -2.150  3.600 0 0 0 -2.150  3.600 0 0 0 -2.150  0 0 0 0 1"/><feComponentTransfer><feFuncR type="table" tableValues="0.255 0.282 0.279 0.259 0.230 0.199 0.173 0.149 0.128 0.121 0.158 0.246 0.369 0.516 0.678 0.846 0.993"/><feFuncG type="table" tableValues="0.070 0.095 0.175 0.252 0.322 0.388 0.449 0.508 0.567 0.626 0.684 0.739 0.789 0.831 0.864 0.887 0.906"/><feFuncB type="table" tableValues="0.310 0.417 0.483 0.525 0.546 0.555 0.558 0.557 0.551 0.533 0.502 0.452 0.383 0.294 0.190 0.100 0.144"/></feComponentTransfer></filter>
<rect x="-1" y="-1" width="64" height="69" filter="url(#f33)" clip-path="url(#pout)"/>
<filter id="f34" x="0" y="0" width="1" height="1" color-interpolation-filters="sRGB"><feTurbulence type="fractalNoise" baseFrequency="0.55" numOctaves="2" seed="24"/><feColorMatrix type="matrix" values="3.600 0 0 0 -2.250  3.600 0 0 0 -2.250  3.600 0 0 0 -2.250  0 0 0 0 1"/><feComponentTransfer><feFuncR type="table" tableValues="0.255 0.282 0.279 0.259 0.230 0.199 0.173 0.149 0.128 0.121 0.158 0.246 0.369 0.516 0.678 0.846 0.993"/><feFuncG type="table" tableValues="0.070 0.095 0.175 0.252 0.322 0.388 0.449 0.508 0.567 0.626 0.684 0.739 0.789 0.831 0.864 0.887 0.906"/><feFuncB type="table" tableValues="0.310 0.417 0.483 0.525 0.546 0.555 0.558 0.557 0.551 0.533 0.502 0.452 0.383 0.294 0.190 0.100 0.144"/></feComponentTransfer></filter>
<rect x="-1" y="-1" width="64" height="69" filter="url(#f34)" clip-path="url(#pin)"/>
<filter id="f35" x="0" y="0" width="1" height="1" color-interpolation-filters="sRGB"><feTurbulence type="fractalNoise" baseFrequency="0.42" numOctaves="1" seed="55"/><feColorMatrix type="matrix" values="10.000 0 0 0 -7.400  10.000 0 0 0 -7.400  10.000 0 0 0 -7.400  250.000 0 0 0 -185.000"/><feComponentTransfer><feFuncR type="table" tableValues="0.255 0.282 0.279 0.259 0.230 0.199 0.173 0.149 0.128 0.121 0.158 0.246 0.369 0.516 0.678 0.846 0.993"/><feFuncG type="table" tableValues="0.070 0.095 0.175 0.252 0.322 0.388 0.449 0.508 0.567 0.626 0.684 0.739 0.789 0.831 0.864 0.887 0.906"/><feFuncB type="table" tableValues="0.310 0.417 0.483 0.525 0.546 0.555 0.558 0.557 0.551 0.533 0.502 0.452 0.383 0.294 0.190 0.100 0.144"/></feComponentTransfer></filter>
<rect x="-1" y="-1" width="64" height="69" filter="url(#f35)"/>
</g>
<path d="M6.50,21.00 L12.00,18.70 L18.30,16.50 L24.00,13.50 L30.10,10.60 L36.00,8.00 L41.80,5.90 L45.40,5.30 L48.90,9.40 L52.40,15.30 L54.80,22.40 L56.60,30.70 L57.20,40.10 L57.70,48.30 L58.30,56.60" fill="none" stroke="#fff" stroke-width="1.1" stroke-dasharray="2.6 2"/>
<path d="M7.70,31.80 L13.00,28.90 L18.30,26.00 L23.00,23.30 L27.70,20.60 L31.80,19.00 L35.90,17.70 L40.70,18.90 L44.20,22.40 L46.50,28.30 L48.30,36.50 L48.30,44.80 L46.50,51.90 L43.00,57.80 L40.00,62.00" fill="none" stroke="#fff" stroke-width="1.1" stroke-dasharray="2.6 2"/>
</g>
<g transform="translate(234.00,513.20)">
<g clip-path="url(#tis)">
<filter id="f36" x="0" y="0" width="1" height="1" color-interpolation-filters="sRGB"><feTurbulence type="fractalNoise" baseFrequency="0.55" numOctaves="2" seed="25"/><feColorMatrix type="matrix" values="3.200 0 0 0 -1.850  3.200 0 0 0 -1.850  3.200 0 0 0 -1.850  0 0 0 0 1"/><feComponentTransfer><feFuncR type="table" tableValues="0.255 0.282 0.279 0.259 0.230 0.199 0.173 0.149 0.128 0.121 0.158 0.246 0.369 0.516 0.678 0.846 0.993"/><feFuncG type="table" tableValues="0.070 0.095 0.175 0.252 0.322 0.388 0.449 0.508 0.567 0.626 0.684 0.739 0.789 0.831 0.864 0.887 0.906"/><feFuncB type="table" tableValues="0.310 0.417 0.483 0.525 0.546 0.555 0.558 0.557 0.551 0.533 0.502 0.452 0.383 0.294 0.190 0.100 0.144"/></feComponentTransfer></filter>
<rect x="-1" y="-1" width="64" height="69" filter="url(#f36)"/>
<filter id="f37" x="0" y="0" width="1" height="1" color-interpolation-filters="sRGB"><feTurbulence type="fractalNoise" baseFrequency="0.55" numOctaves="2" seed="26"/><feColorMatrix type="matrix" values="3.200 0 0 0 -1.750  3.200 0 0 0 -1.750  3.200 0 0 0 -1.750  0 0 0 0 1"/><feComponentTransfer><feFuncR type="table" tableValues="0.255 0.282 0.279 0.259 0.230 0.199 0.173 0.149 0.128 0.121 0.158 0.246 0.369 0.516 0.678 0.846 0.993"/><feFuncG type="table" tableValues="0.070 0.095 0.175 0.252 0.322 0.388 0.449 0.508 0.567 0.626 0.684 0.739 0.789 0.831 0.864 0.887 0.906"/><feFuncB type="table" tableValues="0.310 0.417 0.483 0.525 0.546 0.555 0.558 0.557 0.551 0.533 0.502 0.452 0.383 0.294 0.190 0.100 0.144"/></feComponentTransfer></filter>
<rect x="-1" y="-1" width="64" height="69" filter="url(#f37)" clip-path="url(#pout)"/>
<filter id="f38" x="0" y="0" width="1" height="1" color-interpolation-filters="sRGB"><feTurbulence type="fractalNoise" baseFrequency="0.55" numOctaves="2" seed="27"/><feColorMatrix type="matrix" values="3.400 0 0 0 -1.950  3.400 0 0 0 -1.950  3.400 0 0 0 -1.950  0 0 0 0 1"/><feComponentTransfer><feFuncR type="table" tableValues="0.255 0.282 0.279 0.259 0.230 0.199 0.173 0.149 0.128 0.121 0.158 0.246 0.369 0.516 0.678 0.846 0.993"/><feFuncG type="table" tableValues="0.070 0.095 0.175 0.252 0.322 0.388 0.449 0.508 0.567 0.626 0.684 0.739 0.789 0.831 0.864 0.887 0.906"/><feFuncB type="table" tableValues="0.310 0.417 0.483 0.525 0.546 0.555 0.558 0.557 0.551 0.533 0.502 0.452 0.383 0.294 0.190 0.100 0.144"/></feComponentTransfer></filter>
<rect x="-1" y="-1" width="64" height="69" filter="url(#f38)" clip-path="url(#pin)"/>
<filter id="f39" x="0" y="0" width="1" height="1" color-interpolation-filters="sRGB"><feTurbulence type="fractalNoise" baseFrequency="0.42" numOctaves="1" seed="56"/><feColorMatrix type="matrix" values="10.000 0 0 0 -7.200  10.000 0 0 0 -7.200  10.000 0 0 0 -7.200  250.000 0 0 0 -180.000"/><feComponentTransfer><feFuncR type="table" tableValues="0.255 0.282 0.279 0.259 0.230 0.199 0.173 0.149 0.128 0.121 0.158 0.246 0.369 0.516 0.678 0.846 0.993"/><feFuncG type="table" tableValues="0.070 0.095 0.175 0.252 0.322 0.388 0.449 0.508 0.567 0.626 0.684 0.739 0.789 0.831 0.864 0.887 0.906"/><feFuncB type="table" tableValues="0.310 0.417 0.483 0.525 0.546 0.555 0.558 0.557 0.551 0.533 0.502 0.452 0.383 0.294 0.190 0.100 0.144"/></feComponentTransfer></filter>
<rect x="-1" y="-1" width="64" height="69" filter="url(#f39)"/>
</g>
<path d="M6.50,21.00 L12.00,18.70 L18.30,16.50 L24.00,13.50 L30.10,10.60 L36.00,8.00 L41.80,5.90 L45.40,5.30 L48.90,9.40 L52.40,15.30 L54.80,22.40 L56.60,30.70 L57.20,40.10 L57.70,48.30 L58.30,56.60" fill="none" stroke="#fff" stroke-width="1.1" stroke-dasharray="2.6 2"/>
<path d="M7.70,31.80 L13.00,28.90 L18.30,26.00 L23.00,23.30 L27.70,20.60 L31.80,19.00 L35.90,17.70 L40.70,18.90 L44.20,22.40 L46.50,28.30 L48.30,36.50 L48.30,44.80 L46.50,51.90 L43.00,57.80 L40.00,62.00" fill="none" stroke="#fff" stroke-width="1.1" stroke-dasharray="2.6 2"/>
</g>
<g transform="translate(305.60,513.20)">
<g clip-path="url(#tis)">
<filter id="f40" x="0" y="0" width="1" height="1" color-interpolation-filters="sRGB"><feTurbulence type="fractalNoise" baseFrequency="0.55" numOctaves="2" seed="28"/><feColorMatrix type="matrix" values="2.600 0 0 0 -1.250  2.600 0 0 0 -1.250  2.600 0 0 0 -1.250  0 0 0 0 1"/><feComponentTransfer><feFuncR type="table" tableValues="0.255 0.282 0.279 0.259 0.230 0.199 0.173 0.149 0.128 0.121 0.158 0.246 0.369 0.516 0.678 0.846 0.993"/><feFuncG type="table" tableValues="0.070 0.095 0.175 0.252 0.322 0.388 0.449 0.508 0.567 0.626 0.684 0.739 0.789 0.831 0.864 0.887 0.906"/><feFuncB type="table" tableValues="0.310 0.417 0.483 0.525 0.546 0.555 0.558 0.557 0.551 0.533 0.502 0.452 0.383 0.294 0.190 0.100 0.144"/></feComponentTransfer></filter>
<rect x="-1" y="-1" width="64" height="69" filter="url(#f40)"/>
<filter id="f41" x="0" y="0" width="1" height="1" color-interpolation-filters="sRGB"><feTurbulence type="fractalNoise" baseFrequency="0.55" numOctaves="2" seed="29"/><feColorMatrix type="matrix" values="2.600 0 0 0 -1.150  2.600 0 0 0 -1.150  2.600 0 0 0 -1.150  0 0 0 0 1"/><feComponentTransfer><feFuncR type="table" tableValues="0.255 0.282 0.279 0.259 0.230 0.199 0.173 0.149 0.128 0.121 0.158 0.246 0.369 0.516 0.678 0.846 0.993"/><feFuncG type="table" tableValues="0.070 0.095 0.175 0.252 0.322 0.388 0.449 0.508 0.567 0.626 0.684 0.739 0.789 0.831 0.864 0.887 0.906"/><feFuncB type="table" tableValues="0.310 0.417 0.483 0.525 0.546 0.555 0.558 0.557 0.551 0.533 0.502 0.452 0.383 0.294 0.190 0.100 0.144"/></feComponentTransfer></filter>
<rect x="-1" y="-1" width="64" height="69" filter="url(#f41)" clip-path="url(#pout)"/>
<filter id="f42" x="0" y="0" width="1" height="1" color-interpolation-filters="sRGB"><feTurbulence type="fractalNoise" baseFrequency="0.55" numOctaves="2" seed="58"/><feColorMatrix type="matrix" values="2.600 0 0 0 -1.100  2.600 0 0 0 -1.100  2.600 0 0 0 -1.100  0 0 0 0 1"/><feComponentTransfer><feFuncR type="table" tableValues="0.255 0.282 0.279 0.259 0.230 0.199 0.173 0.149 0.128 0.121 0.158 0.246 0.369 0.516 0.678 0.846 0.993"/><feFuncG type="table" tableValues="0.070 0.095 0.175 0.252 0.322 0.388 0.449 0.508 0.567 0.626 0.684 0.739 0.789 0.831 0.864 0.887 0.906"/><feFuncB type="table" tableValues="0.310 0.417 0.483 0.525 0.546 0.555 0.558 0.557 0.551 0.533 0.502 0.452 0.383 0.294 0.190 0.100 0.144"/></feComponentTransfer></filter>
<rect x="-1" y="-1" width="64" height="69" filter="url(#f42)" clip-path="url(#l4)"/>
<filter id="f43" x="0" y="0" width="1" height="1" color-interpolation-filters="sRGB"><feTurbulence type="fractalNoise" baseFrequency="0.55" numOctaves="2" seed="30"/><feColorMatrix type="matrix" values="2.600 0 0 0 -1.350  2.600 0 0 0 -1.350  2.600 0 0 0 -1.350  0 0 0 0 1"/><feComponentTransfer><feFuncR type="table" tableValues="0.255 0.282 0.279 0.259 0.230 0.199 0.173 0.149 0.128 0.121 0.158 0.246 0.369 0.516 0.678 0.846 0.993"/><feFuncG type="table" tableValues="0.070 0.095 0.175 0.252 0.322 0.388 0.449 0.508 0.567 0.626 0.684 0.739 0.789 0.831 0.864 0.887 0.906"/><feFuncB type="table" tableValues="0.310 0.417 0.483 0.525 0.546 0.555 0.558 0.557 0.551 0.533 0.502 0.452 0.383 0.294 0.190 0.100 0.144"/></feComponentTransfer></filter>
<rect x="-1" y="-1" width="64" height="69" filter="url(#f43)" clip-path="url(#pin)"/>
<filter id="f44" x="0" y="0" width="1" height="1" color-interpolation-filters="sRGB"><feTurbulence type="fractalNoise" baseFrequency="0.55" numOctaves="2" seed="47"/><feColorMatrix type="matrix" values="4.000 0 0 0 -4.000  4.000 0 0 0 -4.000  4.000 0 0 0 -4.000  0 0 0 0 1"/><feComponentTransfer><feFuncR type="table" tableValues="0.255 0.282 0.279 0.259 0.230 0.199 0.173 0.149 0.128 0.121 0.158 0.246 0.369 0.516 0.678 0.846 0.993"/><feFuncG type="table" tableValues="0.070 0.095 0.175 0.252 0.322 0.388 0.449 0.508 0.567 0.626 0.684 0.739 0.789 0.831 0.864 0.887 0.906"/><feFuncB type="table" tableValues="0.310 0.417 0.483 0.525 0.546 0.555 0.558 0.557 0.551 0.533 0.502 0.452 0.383 0.294 0.190 0.100 0.144"/></feComponentTransfer></filter>
<rect x="-1" y="-1" width="64" height="69" filter="url(#f44)" clip-path="url(#seud)"/>
<filter id="f45" x="0" y="0" width="1" height="1" color-interpolation-filters="sRGB"><feTurbulence type="fractalNoise" baseFrequency="0.42" numOctaves="1" seed="57"/><feColorMatrix type="matrix" values="10.000 0 0 0 -6.800  10.000 0 0 0 -6.800  10.000 0 0 0 -6.800  250.000 0 0 0 -170.000"/><feComponentTransfer><feFuncR type="table" tableValues="0.255 0.282 0.279 0.259 0.230 0.199 0.173 0.149 0.128 0.121 0.158 0.246 0.369 0.516 0.678 0.846 0.993"/><feFuncG type="table" tableValues="0.070 0.095 0.175 0.252 0.322 0.388 0.449 0.508 0.567 0.626 0.684 0.739 0.789 0.831 0.864 0.887 0.906"/><feFuncB type="table" tableValues="0.310 0.417 0.483 0.525 0.546 0.555 0.558 0.557 0.551 0.533 0.502 0.452 0.383 0.294 0.190 0.100 0.144"/></feComponentTransfer></filter>
<rect x="-1" y="-1" width="64" height="69" filter="url(#f45)" clip-path="url(#l4)"/>
</g>
<path d="M6.50,21.00 L12.00,18.70 L18.30,16.50 L24.00,13.50 L30.10,10.60 L36.00,8.00 L41.80,5.90 L45.40,5.30 L48.90,9.40 L52.40,15.30 L54.80,22.40 L56.60,30.70 L57.20,40.10 L57.70,48.30 L58.30,56.60" fill="none" stroke="#fff" stroke-width="1.1" stroke-dasharray="2.6 2"/>
<path d="M7.70,31.80 L13.00,28.90 L18.30,26.00 L23.00,23.30 L27.70,20.60 L31.80,19.00 L35.90,17.70 L40.70,18.90 L44.20,22.40 L46.50,28.30 L48.30,36.50 L48.30,44.80 L46.50,51.90 L43.00,57.80 L40.00,62.00" fill="none" stroke="#fff" stroke-width="1.1" stroke-dasharray="2.6 2"/>
</g>
<g transform="translate(377.20,513.20)">
<g clip-path="url(#tis)">
<filter id="f46" x="0" y="0" width="1" height="1" color-interpolation-filters="sRGB"><feTurbulence type="fractalNoise" baseFrequency="0.55" numOctaves="2" seed="31"/><feColorMatrix type="matrix" values="0.250 0 0 0 0.740  0.250 0 0 0 0.740  0.250 0 0 0 0.740  0 0 0 0 1"/><feComponentTransfer><feFuncR type="table" tableValues="0.255 0.282 0.279 0.259 0.230 0.199 0.173 0.149 0.128 0.121 0.158 0.246 0.369 0.516 0.678 0.846 0.993"/><feFuncG type="table" tableValues="0.070 0.095 0.175 0.252 0.322 0.388 0.449 0.508 0.567 0.626 0.684 0.739 0.789 0.831 0.864 0.887 0.906"/><feFuncB type="table" tableValues="0.310 0.417 0.483 0.525 0.546 0.555 0.558 0.557 0.551 0.533 0.502 0.452 0.383 0.294 0.190 0.100 0.144"/></feComponentTransfer></filter>
<rect x="-1" y="-1" width="64" height="69" filter="url(#f46)"/>
<filter id="f47" x="0" y="0" width="1" height="1" color-interpolation-filters="sRGB"><feTurbulence type="fractalNoise" baseFrequency="0.55" numOctaves="2" seed="32"/><feColorMatrix type="matrix" values="0.250 0 0 0 0.740  0.250 0 0 0 0.740  0.250 0 0 0 0.740  0 0 0 0 1"/><feComponentTransfer><feFuncR type="table" tableValues="0.255 0.282 0.279 0.259 0.230 0.199 0.173 0.149 0.128 0.121 0.158 0.246 0.369 0.516 0.678 0.846 0.993"/><feFuncG type="table" tableValues="0.070 0.095 0.175 0.252 0.322 0.388 0.449 0.508 0.567 0.626 0.684 0.739 0.789 0.831 0.864 0.887 0.906"/><feFuncB type="table" tableValues="0.310 0.417 0.483 0.525 0.546 0.555 0.558 0.557 0.551 0.533 0.502 0.452 0.383 0.294 0.190 0.100 0.144"/></feComponentTransfer></filter>
<rect x="-1" y="-1" width="64" height="69" filter="url(#f47)" clip-path="url(#pout)"/>
<filter id="f48" x="0" y="0" width="1" height="1" color-interpolation-filters="sRGB"><feTurbulence type="fractalNoise" baseFrequency="0.55" numOctaves="2" seed="33"/><feColorMatrix type="matrix" values="0.250 0 0 0 0.730  0.250 0 0 0 0.730  0.250 0 0 0 0.730  0 0 0 0 1"/><feComponentTransfer><feFuncR type="table" tableValues="0.255 0.282 0.279 0.259 0.230 0.199 0.173 0.149 0.128 0.121 0.158 0.246 0.369 0.516 0.678 0.846 0.993"/><feFuncG type="table" tableValues="0.070 0.095 0.175 0.252 0.322 0.388 0.449 0.508 0.567 0.626 0.684 0.739 0.789 0.831 0.864 0.887 0.906"/><feFuncB type="table" tableValues="0.310 0.417 0.483 0.525 0.546 0.555 0.558 0.557 0.551 0.533 0.502 0.452 0.383 0.294 0.190 0.100 0.144"/></feComponentTransfer></filter>
<rect x="-1" y="-1" width="64" height="69" filter="url(#f48)" clip-path="url(#pin)"/>
<filter id="f49" x="0" y="0" width="1" height="1" color-interpolation-filters="sRGB"><feTurbulence type="fractalNoise" baseFrequency="0.55" numOctaves="2" seed="42"/><feColorMatrix type="matrix" values="0.300 0 0 0 0.670  0.300 0 0 0 0.670  0.300 0 0 0 0.670  0 0 0 0 1"/><feComponentTransfer><feFuncR type="table" tableValues="0.255 0.282 0.279 0.259 0.230 0.199 0.173 0.149 0.128 0.121 0.158 0.246 0.369 0.516 0.678 0.846 0.993"/><feFuncG type="table" tableValues="0.070 0.095 0.175 0.252 0.322 0.388 0.449 0.508 0.567 0.626 0.684 0.739 0.789 0.831 0.864 0.887 0.906"/><feFuncB type="table" tableValues="0.310 0.417 0.483 0.525 0.546 0.555 0.558 0.557 0.551 0.533 0.502 0.452 0.383 0.294 0.190 0.100 0.144"/></feComponentTransfer></filter>
<rect x="-1" y="30" width="40" height="40" filter="url(#f49)" mask="url(#dsm)"/>
</g>
<path d="M6.50,21.00 L12.00,18.70 L18.30,16.50 L24.00,13.50 L30.10,10.60 L36.00,8.00 L41.80,5.90 L45.40,5.30 L48.90,9.40 L52.40,15.30 L54.80,22.40 L56.60,30.70 L57.20,40.10 L57.70,48.30 L58.30,56.60" fill="none" stroke="#fff" stroke-width="1.1" stroke-dasharray="2.6 2"/>
<path d="M7.70,31.80 L13.00,28.90 L18.30,26.00 L23.00,23.30 L27.70,20.60 L31.80,19.00 L35.90,17.70 L40.70,18.90 L44.20,22.40 L46.50,28.30 L48.30,36.50 L48.30,44.80 L46.50,51.90 L43.00,57.80 L40.00,62.00" fill="none" stroke="#fff" stroke-width="1.1" stroke-dasharray="2.6 2"/>
</g>
<text x="50.9" y="404.8" font-size="10.5" text-anchor="middle" fill="#2b2b2b">Ground truth</text>
<text x="122.3" y="404.8" font-size="10.5" text-anchor="middle" fill="#2b2b2b">Spoint</text>
<text x="193.6" y="404.8" font-size="10.5" text-anchor="middle" fill="#2b2b2b">RCTD</text>
<text x="264.6" y="404.8" font-size="10.5" text-anchor="middle" fill="#2b2b2b">SpatialDWLS</text>
<text x="335.6" y="404.8" font-size="10.5" text-anchor="middle" fill="#2b2b2b">Tangram</text>
<text x="407.2" y="404.8" font-size="10.5" text-anchor="middle" fill="#2b2b2b">CARD</text>
<text x="79.7" y="492.8" font-size="10.5" text-anchor="middle" fill="#2b2b2b">Accuracy score = 0.85</text>
<text x="193.6" y="492.8" font-size="10.5" text-anchor="middle" fill="#2b2b2b">0.61</text>
<text x="264.6" y="492.8" font-size="10.5" text-anchor="middle" fill="#2b2b2b">0.64</text>
<text x="335.6" y="492.8" font-size="10.5" text-anchor="middle" fill="#2b2b2b">0.48</text>
<text x="407.2" y="492.8" font-size="10.5" text-anchor="middle" fill="#2b2b2b">0.50</text>
<text x="50.7" y="506.5" font-size="10.5" text-anchor="middle" fill="#2b2b2b">DestVI</text>
<text x="122.2" y="506.5" font-size="10.5" text-anchor="middle" fill="#2b2b2b">Cell2location</text>
<text x="193.6" y="506.5" font-size="10.5" text-anchor="middle" fill="#2b2b2b">SPOTlight</text>
<text x="265.0" y="506.5" font-size="10.5" text-anchor="middle" fill="#2b2b2b">Stereoscope</text>
<text x="336.1" y="506.5" font-size="10.5" text-anchor="middle" fill="#2b2b2b">Seurat</text>
<text x="407.3" y="506.5" font-size="10.5" text-anchor="middle" fill="#2b2b2b">DSTG</text>
<text x="50.7" y="593.0" font-size="10.5" text-anchor="middle" fill="#2b2b2b">0.46</text>
<text x="122.2" y="593.0" font-size="10.5" text-anchor="middle" fill="#2b2b2b">0.41</text>
<text x="193.6" y="593.0" font-size="10.5" text-anchor="middle" fill="#2b2b2b">0.31</text>
<text x="265.0" y="593.0" font-size="10.5" text-anchor="middle" fill="#2b2b2b">0.31</text>
<text x="336.1" y="593.0" font-size="10.5" text-anchor="middle" fill="#2b2b2b">0.31</text>
<text x="407.3" y="593.0" font-size="10.5" text-anchor="middle" fill="#2b2b2b">0.29</text>
<text x="296.4" y="609.5" font-size="10.6" text-anchor="end" fill="#2b2b2b">L3/4 RORB<tspan font-size="6.5" dy="-3.5">+</tspan><tspan dy="3.5"> RPS3P6</tspan><tspan font-size="6.5" dy="-3.5">+</tspan><tspan dy="3.5"> Exc</tspan></text>
<text x="341.3" y="606.8" font-size="9.1" text-anchor="middle" fill="#2b2b2b">Proportion</text>
<rect x="316.6" y="610.2" width="47.5" height="6.3" fill="url(#vgrad)"/>
<text x="322.8" y="625.0" font-size="9.1" text-anchor="middle" fill="#2b2b2b">Min</text>
<text x="356.3" y="625.0" font-size="9.1" text-anchor="middle" fill="#2b2b2b">Max</text>
<text x="407.4" y="606.8" font-size="9.1" text-anchor="middle" fill="#2b2b2b">Ground truth</text>
<line x1="381.70" y1="613.40" x2="433.20" y2="613.40" stroke="#333" stroke-width="1" stroke-dasharray="2.5 2.65"/>
<text x="599.2" y="402.8" font-size="10.6" text-anchor="middle" fill="#2b2b2b">Accuracy score</text>
<rect x="518.20" y="411.60" width="148.20" height="12.60" fill="#5470BE" stroke="#333" stroke-width="0.8"/>
<line x1="659.30" y1="417.90" x2="673.10" y2="417.90" stroke="#333" stroke-width="0.9"/>
<line x1="659.30" y1="415.30" x2="659.30" y2="420.50" stroke="#333" stroke-width="0.9"/>
<line x1="673.10" y1="415.30" x2="673.10" y2="420.50" stroke="#333" stroke-width="0.9"/>
<line x1="515.20" y1="417.90" x2="518.20" y2="417.90" stroke="#333" stroke-width="1"/>
<text x="513.0" y="421.7" font-size="10.6" text-anchor="end" fill="#2b2b2b">Spoint</text>
<rect x="518.20" y="427.33" width="102.40" height="12.60" fill="#BEAAD3" stroke="#333" stroke-width="0.8"/>
<line x1="612.70" y1="433.63" x2="628.50" y2="433.63" stroke="#333" stroke-width="0.9"/>
<line x1="612.70" y1="431.03" x2="612.70" y2="436.23" stroke="#333" stroke-width="0.9"/>
<line x1="628.50" y1="431.03" x2="628.50" y2="436.23" stroke="#333" stroke-width="0.9"/>
<line x1="515.20" y1="433.63" x2="518.20" y2="433.63" stroke="#333" stroke-width="1"/>
<text x="513.0" y="437.4" font-size="10.6" text-anchor="end" fill="#2b2b2b">RCTD</text>
<rect x="518.20" y="443.06" width="94.50" height="12.60" fill="#E6D944" stroke="#333" stroke-width="0.8"/>
<line x1="602.00" y1="449.36" x2="625.70" y2="449.36" stroke="#333" stroke-width="0.9"/>
<line x1="602.00" y1="446.76" x2="602.00" y2="451.96" stroke="#333" stroke-width="0.9"/>
<line x1="625.70" y1="446.76" x2="625.70" y2="451.96" stroke="#333" stroke-width="0.9"/>
<line x1="515.20" y1="449.36" x2="518.20" y2="449.36" stroke="#333" stroke-width="1"/>
<text x="513.0" y="453.2" font-size="10.6" text-anchor="end" fill="#2b2b2b">SpatialDWLS</text>
<rect x="518.20" y="458.79" width="93.30" height="12.60" fill="#EFA8C8" stroke="#333" stroke-width="0.8"/>
<line x1="605.20" y1="465.09" x2="617.80" y2="465.09" stroke="#333" stroke-width="0.9"/>
<line x1="605.20" y1="462.49" x2="605.20" y2="467.69" stroke="#333" stroke-width="0.9"/>
<line x1="617.80" y1="462.49" x2="617.80" y2="467.69" stroke="#333" stroke-width="0.9"/>
<line x1="515.20" y1="465.09" x2="518.20" y2="465.09" stroke="#333" stroke-width="1"/>
<text x="513.0" y="468.9" font-size="10.6" text-anchor="end" fill="#2b2b2b">Tangram</text>
<rect x="518.20" y="474.52" width="83.40" height="12.60" fill="#4FA85A" stroke="#333" stroke-width="0.8"/>
<line x1="595.30" y1="480.82" x2="608.70" y2="480.82" stroke="#333" stroke-width="0.9"/>
<line x1="595.30" y1="478.22" x2="595.30" y2="483.42" stroke="#333" stroke-width="0.9"/>
<line x1="608.70" y1="478.22" x2="608.70" y2="483.42" stroke="#333" stroke-width="0.9"/>
<line x1="515.20" y1="480.82" x2="518.20" y2="480.82" stroke="#333" stroke-width="1"/>
<text x="513.0" y="484.6" font-size="10.6" text-anchor="end" fill="#2b2b2b">CARD</text>
<rect x="518.20" y="490.25" width="76.30" height="12.60" fill="#A8C8C9" stroke="#333" stroke-width="0.8"/>
<line x1="587.40" y1="496.55" x2="601.20" y2="496.55" stroke="#333" stroke-width="0.9"/>
<line x1="587.40" y1="493.95" x2="587.40" y2="499.15" stroke="#333" stroke-width="0.9"/>
<line x1="601.20" y1="493.95" x2="601.20" y2="499.15" stroke="#333" stroke-width="0.9"/>
<line x1="515.20" y1="496.55" x2="518.20" y2="496.55" stroke="#333" stroke-width="1"/>
<text x="513.0" y="500.4" font-size="10.6" text-anchor="end" fill="#2b2b2b">DestVI</text>
<rect x="518.20" y="505.98" width="58.50" height="12.60" fill="#9BCF5B" stroke="#333" stroke-width="0.8"/>
<line x1="570.80" y1="512.28" x2="582.20" y2="512.28" stroke="#333" stroke-width="0.9"/>
<line x1="570.80" y1="509.68" x2="570.80" y2="514.88" stroke="#333" stroke-width="0.9"/>
<line x1="582.20" y1="509.68" x2="582.20" y2="514.88" stroke="#333" stroke-width="0.9"/>
<line x1="515.20" y1="512.28" x2="518.20" y2="512.28" stroke="#333" stroke-width="1"/>
<text x="513.0" y="516.1" font-size="10.6" text-anchor="end" fill="#2b2b2b">Cell2location</text>
<rect x="518.20" y="521.71" width="46.30" height="12.60" fill="#7EB878" stroke="#333" stroke-width="0.8"/>
<line x1="556.60" y1="528.01" x2="573.10" y2="528.01" stroke="#333" stroke-width="0.9"/>
<line x1="556.60" y1="525.41" x2="556.60" y2="530.61" stroke="#333" stroke-width="0.9"/>
<line x1="573.10" y1="525.41" x2="573.10" y2="530.61" stroke="#333" stroke-width="0.9"/>
<line x1="515.20" y1="528.01" x2="518.20" y2="528.01" stroke="#333" stroke-width="1"/>
<text x="513.0" y="531.8" font-size="10.6" text-anchor="end" fill="#2b2b2b">SPOTlight</text>
<rect x="518.20" y="537.44" width="45.50" height="12.60" fill="#86CBE6" stroke="#333" stroke-width="0.8"/>
<line x1="558.50" y1="543.74" x2="569.20" y2="543.74" stroke="#333" stroke-width="0.9"/>
<line x1="558.50" y1="541.14" x2="558.50" y2="546.34" stroke="#333" stroke-width="0.9"/>
<line x1="569.20" y1="541.14" x2="569.20" y2="546.34" stroke="#333" stroke-width="0.9"/>
<line x1="515.20" y1="543.74" x2="518.20" y2="543.74" stroke="#333" stroke-width="1"/>
<text x="513.0" y="547.6" font-size="10.6" text-anchor="end" fill="#2b2b2b">Stereoscope</text>
<rect x="518.20" y="553.17" width="45.50" height="12.60" fill="#9A8FC3" stroke="#333" stroke-width="0.8"/>
<line x1="555.80" y1="559.47" x2="571.20" y2="559.47" stroke="#333" stroke-width="0.9"/>
<line x1="555.80" y1="556.87" x2="555.80" y2="562.07" stroke="#333" stroke-width="0.9"/>
<line x1="571.20" y1="556.87" x2="571.20" y2="562.07" stroke="#333" stroke-width="0.9"/>
<line x1="515.20" y1="559.47" x2="518.20" y2="559.47" stroke="#333" stroke-width="1"/>
<text x="513.0" y="563.3" font-size="10.6" text-anchor="end" fill="#2b2b2b">Seurat</text>
<rect x="518.20" y="568.90" width="37.20" height="12.60" fill="#1AB7BA" stroke="#333" stroke-width="0.8"/>
<line x1="550.60" y1="575.20" x2="560.10" y2="575.20" stroke="#333" stroke-width="0.9"/>
<line x1="550.60" y1="572.60" x2="550.60" y2="577.80" stroke="#333" stroke-width="0.9"/>
<line x1="560.10" y1="572.60" x2="560.10" y2="577.80" stroke="#333" stroke-width="0.9"/>
<line x1="515.20" y1="575.20" x2="518.20" y2="575.20" stroke="#333" stroke-width="1"/>
<text x="513.0" y="579.0" font-size="10.6" text-anchor="end" fill="#2b2b2b">DSTG</text>
<line x1="518.20" y1="410.40" x2="518.20" y2="584.00" stroke="#333" stroke-width="1"/>
<line x1="517.70" y1="583.50" x2="685.00" y2="583.50" stroke="#333" stroke-width="1"/>
<line x1="518.20" y1="583.50" x2="518.20" y2="586.50" stroke="#333" stroke-width="1"/>
<text x="518.2" y="597.2" font-size="10.6" text-anchor="middle" fill="#2b2b2b">0.2</text>
<line x1="555.20" y1="583.50" x2="555.20" y2="586.50" stroke="#333" stroke-width="1"/>
<text x="555.2" y="597.2" font-size="10.6" text-anchor="middle" fill="#2b2b2b">0.3</text>
<line x1="592.20" y1="583.50" x2="592.20" y2="586.50" stroke="#333" stroke-width="1"/>
<text x="592.2" y="597.2" font-size="10.6" text-anchor="middle" fill="#2b2b2b">0.4</text>
<line x1="629.20" y1="583.50" x2="629.20" y2="586.50" stroke="#333" stroke-width="1"/>
<text x="629.2" y="597.2" font-size="10.6" text-anchor="middle" fill="#2b2b2b">0.5</text>
<line x1="666.20" y1="583.50" x2="666.20" y2="586.50" stroke="#333" stroke-width="1"/>
<text x="666.2" y="597.2" font-size="10.6" text-anchor="middle" fill="#2b2b2b">0.6</text>
</svg></body></html>
